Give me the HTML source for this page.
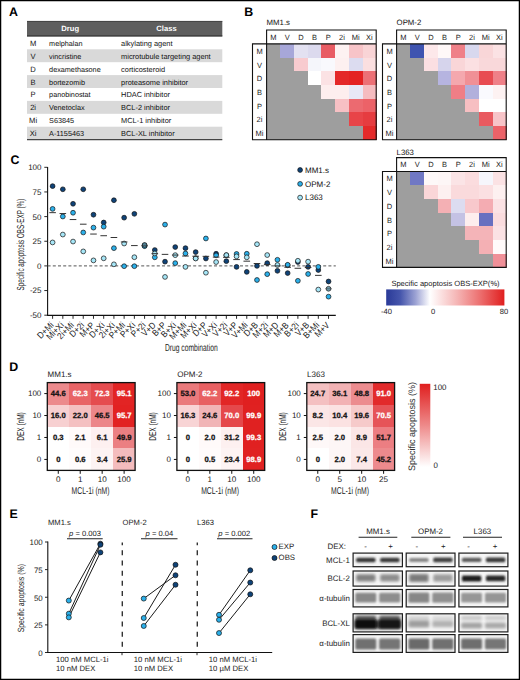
<!DOCTYPE html><html><head><meta charset="utf-8"><style>html,body{margin:0;padding:0;background:#fff;}svg{display:block;} text{font-family:"Liberation Sans", sans-serif;text-rendering:geometricPrecision;}</style></head><body>
<svg width="520" height="680" viewBox="0 0 520 680" font-family='"Liberation Sans", sans-serif'>
<rect x="0.00" y="0.00" width="520.00" height="680.00" fill="#fff" stroke="none" stroke-width="1" />
<text x="9.00" y="16.20" font-size="12.4" text-anchor="start" font-weight="bold" fill="#000" >A</text>
<rect x="27.00" y="21.00" width="195.30" height="15.40" fill="#5e5e5e" stroke="none" stroke-width="1" />
<line x1="27.00" y1="21.40" x2="222.30" y2="21.40" stroke="#3c3c3c" stroke-width="0.8" />
<line x1="27.00" y1="35.80" x2="222.30" y2="35.80" stroke="#3a3a3a" stroke-width="1.2" />
<text x="70.20" y="31.30" font-size="7.6" text-anchor="middle" font-weight="bold" fill="#fff" >Drug</text>
<text x="166.50" y="31.30" font-size="7.6" text-anchor="middle" font-weight="bold" fill="#fff" >Class</text>
<text x="33.10" y="45.80" font-size="7.6" text-anchor="middle" font-weight="normal" fill="#111" >M</text>
<text x="49.10" y="45.80" font-size="7.25" text-anchor="start" font-weight="normal" fill="#111" >melphalan</text>
<text x="121.10" y="45.80" font-size="7.4" text-anchor="start" font-weight="normal" fill="#111" >alkylating agent</text>
<rect x="27.00" y="49.30" width="195.30" height="12.90" fill="#d9d9d9" stroke="none" stroke-width="1" />
<text x="33.10" y="58.70" font-size="7.6" text-anchor="middle" font-weight="normal" fill="#111" >V</text>
<text x="49.10" y="58.70" font-size="7.25" text-anchor="start" font-weight="normal" fill="#111" >vincristine</text>
<text x="121.10" y="58.70" font-size="7.4" text-anchor="start" font-weight="normal" fill="#111" >microtubule targeting agent</text>
<text x="33.10" y="71.60" font-size="7.6" text-anchor="middle" font-weight="normal" fill="#111" >D</text>
<text x="49.10" y="71.60" font-size="7.25" text-anchor="start" font-weight="normal" fill="#111" >dexamethasone</text>
<text x="121.10" y="71.60" font-size="7.4" text-anchor="start" font-weight="normal" fill="#111" >corticosteroid</text>
<rect x="27.00" y="75.10" width="195.30" height="12.90" fill="#d9d9d9" stroke="none" stroke-width="1" />
<text x="33.10" y="84.50" font-size="7.6" text-anchor="middle" font-weight="normal" fill="#111" >B</text>
<text x="49.10" y="84.50" font-size="7.25" text-anchor="start" font-weight="normal" fill="#111" >bortezomib</text>
<text x="121.10" y="84.50" font-size="7.4" text-anchor="start" font-weight="normal" fill="#111" >proteasome inhibitor</text>
<text x="33.10" y="97.40" font-size="7.6" text-anchor="middle" font-weight="normal" fill="#111" >P</text>
<text x="49.10" y="97.40" font-size="7.25" text-anchor="start" font-weight="normal" fill="#111" >panobinostat</text>
<text x="121.10" y="97.40" font-size="7.4" text-anchor="start" font-weight="normal" fill="#111" >HDAC inhibitor</text>
<rect x="27.00" y="100.90" width="195.30" height="12.90" fill="#d9d9d9" stroke="none" stroke-width="1" />
<text x="33.10" y="110.30" font-size="7.6" text-anchor="middle" font-weight="normal" fill="#111" >2i</text>
<text x="49.10" y="110.30" font-size="7.25" text-anchor="start" font-weight="normal" fill="#111" >Venetoclax</text>
<text x="121.10" y="110.30" font-size="7.4" text-anchor="start" font-weight="normal" fill="#111" >BCL-2 inhibitor</text>
<text x="33.10" y="123.20" font-size="7.6" text-anchor="middle" font-weight="normal" fill="#111" >Mi</text>
<text x="49.10" y="123.20" font-size="7.25" text-anchor="start" font-weight="normal" fill="#111" >S63845</text>
<text x="121.10" y="123.20" font-size="7.4" text-anchor="start" font-weight="normal" fill="#111" >MCL-1 inhibitor</text>
<rect x="27.00" y="126.70" width="195.30" height="12.90" fill="#d9d9d9" stroke="none" stroke-width="1" />
<text x="33.10" y="136.10" font-size="7.6" text-anchor="middle" font-weight="normal" fill="#111" >Xi</text>
<text x="49.10" y="136.10" font-size="7.25" text-anchor="start" font-weight="normal" fill="#111" >A-1155463</text>
<text x="121.10" y="136.10" font-size="7.4" text-anchor="start" font-weight="normal" fill="#111" >BCL-XL inhibitor</text>
<line x1="27.00" y1="139.60" x2="222.30" y2="139.60" stroke="#444" stroke-width="1.1" />
<text x="244.30" y="15.80" font-size="12.4" text-anchor="start" font-weight="bold" fill="#000" >B</text>
<text x="266.60" y="24.70" font-size="7.8" text-anchor="start" font-weight="normal" fill="#111" >MM1.s</text>
<rect x="266.60" y="43.90" width="14.00" height="13.99" fill="#9e9e9e" stroke="none" stroke-width="1" shape-rendering="crispEdges"/>
<rect x="280.30" y="43.90" width="14.00" height="13.99" fill="#a7a7d9" stroke="none" stroke-width="1" shape-rendering="crispEdges"/>
<rect x="294.00" y="43.90" width="14.00" height="13.99" fill="#e3e1f1" stroke="none" stroke-width="1" shape-rendering="crispEdges"/>
<rect x="307.70" y="43.90" width="14.00" height="13.99" fill="#dcdaee" stroke="none" stroke-width="1" shape-rendering="crispEdges"/>
<rect x="321.40" y="43.90" width="14.00" height="13.99" fill="#e85c64" stroke="none" stroke-width="1" shape-rendering="crispEdges"/>
<rect x="335.10" y="43.90" width="14.00" height="13.99" fill="#fdf2f2" stroke="none" stroke-width="1" shape-rendering="crispEdges"/>
<rect x="348.80" y="43.90" width="14.00" height="13.99" fill="#f7c4c8" stroke="none" stroke-width="1" shape-rendering="crispEdges"/>
<rect x="362.50" y="43.90" width="14.00" height="13.99" fill="#f9d4d6" stroke="none" stroke-width="1" shape-rendering="crispEdges"/>
<rect x="266.60" y="57.59" width="14.00" height="13.99" fill="#9e9e9e" stroke="none" stroke-width="1" shape-rendering="crispEdges"/>
<rect x="280.30" y="57.59" width="14.00" height="13.99" fill="#9e9e9e" stroke="none" stroke-width="1" shape-rendering="crispEdges"/>
<rect x="294.00" y="57.59" width="14.00" height="13.99" fill="#f8cbcf" stroke="none" stroke-width="1" shape-rendering="crispEdges"/>
<rect x="307.70" y="57.59" width="14.00" height="13.99" fill="#f5f6fb" stroke="none" stroke-width="1" shape-rendering="crispEdges"/>
<rect x="321.40" y="57.59" width="14.00" height="13.99" fill="#f9f9fd" stroke="none" stroke-width="1" shape-rendering="crispEdges"/>
<rect x="335.10" y="57.59" width="14.00" height="13.99" fill="#fdf0f0" stroke="none" stroke-width="1" shape-rendering="crispEdges"/>
<rect x="348.80" y="57.59" width="14.00" height="13.99" fill="#dcdcf0" stroke="none" stroke-width="1" shape-rendering="crispEdges"/>
<rect x="362.50" y="57.59" width="14.00" height="13.99" fill="#fbdfe0" stroke="none" stroke-width="1" shape-rendering="crispEdges"/>
<rect x="266.60" y="71.28" width="14.00" height="13.99" fill="#9e9e9e" stroke="none" stroke-width="1" shape-rendering="crispEdges"/>
<rect x="280.30" y="71.28" width="14.00" height="13.99" fill="#9e9e9e" stroke="none" stroke-width="1" shape-rendering="crispEdges"/>
<rect x="294.00" y="71.28" width="14.00" height="13.99" fill="#9e9e9e" stroke="none" stroke-width="1" shape-rendering="crispEdges"/>
<rect x="307.70" y="71.28" width="14.00" height="13.99" fill="#ffffff" stroke="none" stroke-width="1" shape-rendering="crispEdges"/>
<rect x="321.40" y="71.28" width="14.00" height="13.99" fill="#fbe2e4" stroke="none" stroke-width="1" shape-rendering="crispEdges"/>
<rect x="335.10" y="71.28" width="14.00" height="13.99" fill="#e42828" stroke="none" stroke-width="1" shape-rendering="crispEdges"/>
<rect x="348.80" y="71.28" width="14.00" height="13.99" fill="#e42222" stroke="none" stroke-width="1" shape-rendering="crispEdges"/>
<rect x="362.50" y="71.28" width="14.00" height="13.99" fill="#ec7076" stroke="none" stroke-width="1" shape-rendering="crispEdges"/>
<rect x="266.60" y="84.97" width="14.00" height="13.99" fill="#9e9e9e" stroke="none" stroke-width="1" shape-rendering="crispEdges"/>
<rect x="280.30" y="84.97" width="14.00" height="13.99" fill="#9e9e9e" stroke="none" stroke-width="1" shape-rendering="crispEdges"/>
<rect x="294.00" y="84.97" width="14.00" height="13.99" fill="#9e9e9e" stroke="none" stroke-width="1" shape-rendering="crispEdges"/>
<rect x="307.70" y="84.97" width="14.00" height="13.99" fill="#9e9e9e" stroke="none" stroke-width="1" shape-rendering="crispEdges"/>
<rect x="321.40" y="84.97" width="14.00" height="13.99" fill="#fdeeee" stroke="none" stroke-width="1" shape-rendering="crispEdges"/>
<rect x="335.10" y="84.97" width="14.00" height="13.99" fill="#fdeeee" stroke="none" stroke-width="1" shape-rendering="crispEdges"/>
<rect x="348.80" y="84.97" width="14.00" height="13.99" fill="#e8e8f6" stroke="none" stroke-width="1" shape-rendering="crispEdges"/>
<rect x="362.50" y="84.97" width="14.00" height="13.99" fill="#f5bcc0" stroke="none" stroke-width="1" shape-rendering="crispEdges"/>
<rect x="266.60" y="98.66" width="14.00" height="13.99" fill="#9e9e9e" stroke="none" stroke-width="1" shape-rendering="crispEdges"/>
<rect x="280.30" y="98.66" width="14.00" height="13.99" fill="#9e9e9e" stroke="none" stroke-width="1" shape-rendering="crispEdges"/>
<rect x="294.00" y="98.66" width="14.00" height="13.99" fill="#9e9e9e" stroke="none" stroke-width="1" shape-rendering="crispEdges"/>
<rect x="307.70" y="98.66" width="14.00" height="13.99" fill="#9e9e9e" stroke="none" stroke-width="1" shape-rendering="crispEdges"/>
<rect x="321.40" y="98.66" width="14.00" height="13.99" fill="#9e9e9e" stroke="none" stroke-width="1" shape-rendering="crispEdges"/>
<rect x="335.10" y="98.66" width="14.00" height="13.99" fill="#f7c0c4" stroke="none" stroke-width="1" shape-rendering="crispEdges"/>
<rect x="348.80" y="98.66" width="14.00" height="13.99" fill="#ec6a70" stroke="none" stroke-width="1" shape-rendering="crispEdges"/>
<rect x="362.50" y="98.66" width="14.00" height="13.99" fill="#ec6268" stroke="none" stroke-width="1" shape-rendering="crispEdges"/>
<rect x="266.60" y="112.35" width="14.00" height="13.99" fill="#9e9e9e" stroke="none" stroke-width="1" shape-rendering="crispEdges"/>
<rect x="280.30" y="112.35" width="14.00" height="13.99" fill="#9e9e9e" stroke="none" stroke-width="1" shape-rendering="crispEdges"/>
<rect x="294.00" y="112.35" width="14.00" height="13.99" fill="#9e9e9e" stroke="none" stroke-width="1" shape-rendering="crispEdges"/>
<rect x="307.70" y="112.35" width="14.00" height="13.99" fill="#9e9e9e" stroke="none" stroke-width="1" shape-rendering="crispEdges"/>
<rect x="321.40" y="112.35" width="14.00" height="13.99" fill="#9e9e9e" stroke="none" stroke-width="1" shape-rendering="crispEdges"/>
<rect x="335.10" y="112.35" width="14.00" height="13.99" fill="#9e9e9e" stroke="none" stroke-width="1" shape-rendering="crispEdges"/>
<rect x="348.80" y="112.35" width="14.00" height="13.99" fill="#e84448" stroke="none" stroke-width="1" shape-rendering="crispEdges"/>
<rect x="362.50" y="112.35" width="14.00" height="13.99" fill="#e63c40" stroke="none" stroke-width="1" shape-rendering="crispEdges"/>
<rect x="266.60" y="126.04" width="14.00" height="13.99" fill="#9e9e9e" stroke="none" stroke-width="1" shape-rendering="crispEdges"/>
<rect x="280.30" y="126.04" width="14.00" height="13.99" fill="#9e9e9e" stroke="none" stroke-width="1" shape-rendering="crispEdges"/>
<rect x="294.00" y="126.04" width="14.00" height="13.99" fill="#9e9e9e" stroke="none" stroke-width="1" shape-rendering="crispEdges"/>
<rect x="307.70" y="126.04" width="14.00" height="13.99" fill="#9e9e9e" stroke="none" stroke-width="1" shape-rendering="crispEdges"/>
<rect x="321.40" y="126.04" width="14.00" height="13.99" fill="#9e9e9e" stroke="none" stroke-width="1" shape-rendering="crispEdges"/>
<rect x="335.10" y="126.04" width="14.00" height="13.99" fill="#9e9e9e" stroke="none" stroke-width="1" shape-rendering="crispEdges"/>
<rect x="348.80" y="126.04" width="14.00" height="13.99" fill="#9e9e9e" stroke="none" stroke-width="1" shape-rendering="crispEdges"/>
<rect x="362.50" y="126.04" width="14.00" height="13.99" fill="#e42a2a" stroke="none" stroke-width="1" shape-rendering="crispEdges"/>
<path d="M266.60 43.90 V30.00 H376.20 V139.73 H252.50 V43.90 H376.20 M266.60 43.90 V139.73" fill="none" stroke="#111" stroke-width="1.1"/>
<text x="273.45" y="39.70" font-size="7.5" text-anchor="middle" font-weight="normal" fill="#222" >M</text>
<text x="287.15" y="39.70" font-size="7.5" text-anchor="middle" font-weight="normal" fill="#222" >V</text>
<text x="300.85" y="39.70" font-size="7.5" text-anchor="middle" font-weight="normal" fill="#222" >D</text>
<text x="314.55" y="39.70" font-size="7.5" text-anchor="middle" font-weight="normal" fill="#222" >B</text>
<text x="328.25" y="39.70" font-size="7.5" text-anchor="middle" font-weight="normal" fill="#222" >P</text>
<text x="341.95" y="39.70" font-size="7.5" text-anchor="middle" font-weight="normal" fill="#222" >2i</text>
<text x="355.65" y="39.70" font-size="7.5" text-anchor="middle" font-weight="normal" fill="#222" >Mi</text>
<text x="369.35" y="39.70" font-size="7.5" text-anchor="middle" font-weight="normal" fill="#222" >Xi</text>
<text x="259.50" y="53.84" font-size="7.5" text-anchor="middle" font-weight="normal" fill="#222" >M</text>
<text x="259.50" y="67.53" font-size="7.5" text-anchor="middle" font-weight="normal" fill="#222" >V</text>
<text x="259.50" y="81.22" font-size="7.5" text-anchor="middle" font-weight="normal" fill="#222" >D</text>
<text x="259.50" y="94.91" font-size="7.5" text-anchor="middle" font-weight="normal" fill="#222" >B</text>
<text x="259.50" y="108.60" font-size="7.5" text-anchor="middle" font-weight="normal" fill="#222" >P</text>
<text x="259.50" y="122.29" font-size="7.5" text-anchor="middle" font-weight="normal" fill="#222" >2i</text>
<text x="259.50" y="135.98" font-size="7.5" text-anchor="middle" font-weight="normal" fill="#222" >Mi</text>
<text x="396.60" y="24.70" font-size="7.8" text-anchor="start" font-weight="normal" fill="#111" >OPM-2</text>
<rect x="396.60" y="43.90" width="14.00" height="13.99" fill="#9e9e9e" stroke="none" stroke-width="1" shape-rendering="crispEdges"/>
<rect x="410.30" y="43.90" width="14.00" height="13.99" fill="#3f54b0" stroke="none" stroke-width="1" shape-rendering="crispEdges"/>
<rect x="424.00" y="43.90" width="14.00" height="13.99" fill="#fde8ea" stroke="none" stroke-width="1" shape-rendering="crispEdges"/>
<rect x="437.70" y="43.90" width="14.00" height="13.99" fill="#fff8f8" stroke="none" stroke-width="1" shape-rendering="crispEdges"/>
<rect x="451.40" y="43.90" width="14.00" height="13.99" fill="#ef8088" stroke="none" stroke-width="1" shape-rendering="crispEdges"/>
<rect x="465.10" y="43.90" width="14.00" height="13.99" fill="#d8d8ee" stroke="none" stroke-width="1" shape-rendering="crispEdges"/>
<rect x="478.80" y="43.90" width="14.00" height="13.99" fill="#f9d6d8" stroke="none" stroke-width="1" shape-rendering="crispEdges"/>
<rect x="492.50" y="43.90" width="14.00" height="13.99" fill="#fbe2e4" stroke="none" stroke-width="1" shape-rendering="crispEdges"/>
<rect x="396.60" y="57.59" width="14.00" height="13.99" fill="#9e9e9e" stroke="none" stroke-width="1" shape-rendering="crispEdges"/>
<rect x="410.30" y="57.59" width="14.00" height="13.99" fill="#9e9e9e" stroke="none" stroke-width="1" shape-rendering="crispEdges"/>
<rect x="424.00" y="57.59" width="14.00" height="13.99" fill="#fbdfe2" stroke="none" stroke-width="1" shape-rendering="crispEdges"/>
<rect x="437.70" y="57.59" width="14.00" height="13.99" fill="#d6d4ec" stroke="none" stroke-width="1" shape-rendering="crispEdges"/>
<rect x="451.40" y="57.59" width="14.00" height="13.99" fill="#f9d6d8" stroke="none" stroke-width="1" shape-rendering="crispEdges"/>
<rect x="465.10" y="57.59" width="14.00" height="13.99" fill="#fbe0e2" stroke="none" stroke-width="1" shape-rendering="crispEdges"/>
<rect x="478.80" y="57.59" width="14.00" height="13.99" fill="#f9d8da" stroke="none" stroke-width="1" shape-rendering="crispEdges"/>
<rect x="492.50" y="57.59" width="14.00" height="13.99" fill="#f9d8da" stroke="none" stroke-width="1" shape-rendering="crispEdges"/>
<rect x="396.60" y="71.28" width="14.00" height="13.99" fill="#9e9e9e" stroke="none" stroke-width="1" shape-rendering="crispEdges"/>
<rect x="410.30" y="71.28" width="14.00" height="13.99" fill="#9e9e9e" stroke="none" stroke-width="1" shape-rendering="crispEdges"/>
<rect x="424.00" y="71.28" width="14.00" height="13.99" fill="#9e9e9e" stroke="none" stroke-width="1" shape-rendering="crispEdges"/>
<rect x="437.70" y="71.28" width="14.00" height="13.99" fill="#b6b4e0" stroke="none" stroke-width="1" shape-rendering="crispEdges"/>
<rect x="451.40" y="71.28" width="14.00" height="13.99" fill="#f4a8ae" stroke="none" stroke-width="1" shape-rendering="crispEdges"/>
<rect x="465.10" y="71.28" width="14.00" height="13.99" fill="#f09096" stroke="none" stroke-width="1" shape-rendering="crispEdges"/>
<rect x="478.80" y="71.28" width="14.00" height="13.99" fill="#e84c52" stroke="none" stroke-width="1" shape-rendering="crispEdges"/>
<rect x="492.50" y="71.28" width="14.00" height="13.99" fill="#ef8088" stroke="none" stroke-width="1" shape-rendering="crispEdges"/>
<rect x="396.60" y="84.97" width="14.00" height="13.99" fill="#9e9e9e" stroke="none" stroke-width="1" shape-rendering="crispEdges"/>
<rect x="410.30" y="84.97" width="14.00" height="13.99" fill="#9e9e9e" stroke="none" stroke-width="1" shape-rendering="crispEdges"/>
<rect x="424.00" y="84.97" width="14.00" height="13.99" fill="#9e9e9e" stroke="none" stroke-width="1" shape-rendering="crispEdges"/>
<rect x="437.70" y="84.97" width="14.00" height="13.99" fill="#9e9e9e" stroke="none" stroke-width="1" shape-rendering="crispEdges"/>
<rect x="451.40" y="84.97" width="14.00" height="13.99" fill="#ef7e86" stroke="none" stroke-width="1" shape-rendering="crispEdges"/>
<rect x="465.10" y="84.97" width="14.00" height="13.99" fill="#b2b0dc" stroke="none" stroke-width="1" shape-rendering="crispEdges"/>
<rect x="478.80" y="84.97" width="14.00" height="13.99" fill="#fafafe" stroke="none" stroke-width="1" shape-rendering="crispEdges"/>
<rect x="492.50" y="84.97" width="14.00" height="13.99" fill="#fdf2f2" stroke="none" stroke-width="1" shape-rendering="crispEdges"/>
<rect x="396.60" y="98.66" width="14.00" height="13.99" fill="#9e9e9e" stroke="none" stroke-width="1" shape-rendering="crispEdges"/>
<rect x="410.30" y="98.66" width="14.00" height="13.99" fill="#9e9e9e" stroke="none" stroke-width="1" shape-rendering="crispEdges"/>
<rect x="424.00" y="98.66" width="14.00" height="13.99" fill="#9e9e9e" stroke="none" stroke-width="1" shape-rendering="crispEdges"/>
<rect x="437.70" y="98.66" width="14.00" height="13.99" fill="#9e9e9e" stroke="none" stroke-width="1" shape-rendering="crispEdges"/>
<rect x="451.40" y="98.66" width="14.00" height="13.99" fill="#9e9e9e" stroke="none" stroke-width="1" shape-rendering="crispEdges"/>
<rect x="465.10" y="98.66" width="14.00" height="13.99" fill="#f7bfc2" stroke="none" stroke-width="1" shape-rendering="crispEdges"/>
<rect x="478.80" y="98.66" width="14.00" height="13.99" fill="#ffffff" stroke="none" stroke-width="1" shape-rendering="crispEdges"/>
<rect x="492.50" y="98.66" width="14.00" height="13.99" fill="#ffffff" stroke="none" stroke-width="1" shape-rendering="crispEdges"/>
<rect x="396.60" y="112.35" width="14.00" height="13.99" fill="#9e9e9e" stroke="none" stroke-width="1" shape-rendering="crispEdges"/>
<rect x="410.30" y="112.35" width="14.00" height="13.99" fill="#9e9e9e" stroke="none" stroke-width="1" shape-rendering="crispEdges"/>
<rect x="424.00" y="112.35" width="14.00" height="13.99" fill="#9e9e9e" stroke="none" stroke-width="1" shape-rendering="crispEdges"/>
<rect x="437.70" y="112.35" width="14.00" height="13.99" fill="#9e9e9e" stroke="none" stroke-width="1" shape-rendering="crispEdges"/>
<rect x="451.40" y="112.35" width="14.00" height="13.99" fill="#9e9e9e" stroke="none" stroke-width="1" shape-rendering="crispEdges"/>
<rect x="465.10" y="112.35" width="14.00" height="13.99" fill="#9e9e9e" stroke="none" stroke-width="1" shape-rendering="crispEdges"/>
<rect x="478.80" y="112.35" width="14.00" height="13.99" fill="#e95a60" stroke="none" stroke-width="1" shape-rendering="crispEdges"/>
<rect x="492.50" y="112.35" width="14.00" height="13.99" fill="#f7c4c8" stroke="none" stroke-width="1" shape-rendering="crispEdges"/>
<rect x="396.60" y="126.04" width="14.00" height="13.99" fill="#9e9e9e" stroke="none" stroke-width="1" shape-rendering="crispEdges"/>
<rect x="410.30" y="126.04" width="14.00" height="13.99" fill="#9e9e9e" stroke="none" stroke-width="1" shape-rendering="crispEdges"/>
<rect x="424.00" y="126.04" width="14.00" height="13.99" fill="#9e9e9e" stroke="none" stroke-width="1" shape-rendering="crispEdges"/>
<rect x="437.70" y="126.04" width="14.00" height="13.99" fill="#9e9e9e" stroke="none" stroke-width="1" shape-rendering="crispEdges"/>
<rect x="451.40" y="126.04" width="14.00" height="13.99" fill="#9e9e9e" stroke="none" stroke-width="1" shape-rendering="crispEdges"/>
<rect x="465.10" y="126.04" width="14.00" height="13.99" fill="#9e9e9e" stroke="none" stroke-width="1" shape-rendering="crispEdges"/>
<rect x="478.80" y="126.04" width="14.00" height="13.99" fill="#9e9e9e" stroke="none" stroke-width="1" shape-rendering="crispEdges"/>
<rect x="492.50" y="126.04" width="14.00" height="13.99" fill="#ec6268" stroke="none" stroke-width="1" shape-rendering="crispEdges"/>
<path d="M396.60 43.90 V30.00 H506.20 V139.73 H382.50 V43.90 H506.20 M396.60 43.90 V139.73" fill="none" stroke="#111" stroke-width="1.1"/>
<text x="403.45" y="39.70" font-size="7.5" text-anchor="middle" font-weight="normal" fill="#222" >M</text>
<text x="417.15" y="39.70" font-size="7.5" text-anchor="middle" font-weight="normal" fill="#222" >V</text>
<text x="430.85" y="39.70" font-size="7.5" text-anchor="middle" font-weight="normal" fill="#222" >D</text>
<text x="444.55" y="39.70" font-size="7.5" text-anchor="middle" font-weight="normal" fill="#222" >B</text>
<text x="458.25" y="39.70" font-size="7.5" text-anchor="middle" font-weight="normal" fill="#222" >P</text>
<text x="471.95" y="39.70" font-size="7.5" text-anchor="middle" font-weight="normal" fill="#222" >2i</text>
<text x="485.65" y="39.70" font-size="7.5" text-anchor="middle" font-weight="normal" fill="#222" >Mi</text>
<text x="499.35" y="39.70" font-size="7.5" text-anchor="middle" font-weight="normal" fill="#222" >Xi</text>
<text x="389.50" y="53.84" font-size="7.5" text-anchor="middle" font-weight="normal" fill="#222" >M</text>
<text x="389.50" y="67.53" font-size="7.5" text-anchor="middle" font-weight="normal" fill="#222" >V</text>
<text x="389.50" y="81.22" font-size="7.5" text-anchor="middle" font-weight="normal" fill="#222" >D</text>
<text x="389.50" y="94.91" font-size="7.5" text-anchor="middle" font-weight="normal" fill="#222" >B</text>
<text x="389.50" y="108.60" font-size="7.5" text-anchor="middle" font-weight="normal" fill="#222" >P</text>
<text x="389.50" y="122.29" font-size="7.5" text-anchor="middle" font-weight="normal" fill="#222" >2i</text>
<text x="389.50" y="135.98" font-size="7.5" text-anchor="middle" font-weight="normal" fill="#222" >Mi</text>
<text x="396.60" y="154.70" font-size="7.8" text-anchor="start" font-weight="normal" fill="#111" >L363</text>
<rect x="396.60" y="171.50" width="14.00" height="13.99" fill="#9e9e9e" stroke="none" stroke-width="1" shape-rendering="crispEdges"/>
<rect x="410.30" y="171.50" width="14.00" height="13.99" fill="#7078c4" stroke="none" stroke-width="1" shape-rendering="crispEdges"/>
<rect x="424.00" y="171.50" width="14.00" height="13.99" fill="#fdf8f8" stroke="none" stroke-width="1" shape-rendering="crispEdges"/>
<rect x="437.70" y="171.50" width="14.00" height="13.99" fill="#fdf6f6" stroke="none" stroke-width="1" shape-rendering="crispEdges"/>
<rect x="451.40" y="171.50" width="14.00" height="13.99" fill="#fbe4e6" stroke="none" stroke-width="1" shape-rendering="crispEdges"/>
<rect x="465.10" y="171.50" width="14.00" height="13.99" fill="#fbdcde" stroke="none" stroke-width="1" shape-rendering="crispEdges"/>
<rect x="478.80" y="171.50" width="14.00" height="13.99" fill="#f6f6fc" stroke="none" stroke-width="1" shape-rendering="crispEdges"/>
<rect x="492.50" y="171.50" width="14.00" height="13.99" fill="#fbe2e4" stroke="none" stroke-width="1" shape-rendering="crispEdges"/>
<rect x="396.60" y="185.19" width="14.00" height="13.99" fill="#9e9e9e" stroke="none" stroke-width="1" shape-rendering="crispEdges"/>
<rect x="410.30" y="185.19" width="14.00" height="13.99" fill="#9e9e9e" stroke="none" stroke-width="1" shape-rendering="crispEdges"/>
<rect x="424.00" y="185.19" width="14.00" height="13.99" fill="#fad6d8" stroke="none" stroke-width="1" shape-rendering="crispEdges"/>
<rect x="437.70" y="185.19" width="14.00" height="13.99" fill="#fdf0f0" stroke="none" stroke-width="1" shape-rendering="crispEdges"/>
<rect x="451.40" y="185.19" width="14.00" height="13.99" fill="#fadadc" stroke="none" stroke-width="1" shape-rendering="crispEdges"/>
<rect x="465.10" y="185.19" width="14.00" height="13.99" fill="#fadadc" stroke="none" stroke-width="1" shape-rendering="crispEdges"/>
<rect x="478.80" y="185.19" width="14.00" height="13.99" fill="#fbe0e2" stroke="none" stroke-width="1" shape-rendering="crispEdges"/>
<rect x="492.50" y="185.19" width="14.00" height="13.99" fill="#fdf0f0" stroke="none" stroke-width="1" shape-rendering="crispEdges"/>
<rect x="396.60" y="198.88" width="14.00" height="13.99" fill="#9e9e9e" stroke="none" stroke-width="1" shape-rendering="crispEdges"/>
<rect x="410.30" y="198.88" width="14.00" height="13.99" fill="#9e9e9e" stroke="none" stroke-width="1" shape-rendering="crispEdges"/>
<rect x="424.00" y="198.88" width="14.00" height="13.99" fill="#9e9e9e" stroke="none" stroke-width="1" shape-rendering="crispEdges"/>
<rect x="437.70" y="198.88" width="14.00" height="13.99" fill="#f4b0b4" stroke="none" stroke-width="1" shape-rendering="crispEdges"/>
<rect x="451.40" y="198.88" width="14.00" height="13.99" fill="#dcdcf0" stroke="none" stroke-width="1" shape-rendering="crispEdges"/>
<rect x="465.10" y="198.88" width="14.00" height="13.99" fill="#f8c8cc" stroke="none" stroke-width="1" shape-rendering="crispEdges"/>
<rect x="478.80" y="198.88" width="14.00" height="13.99" fill="#f4acb2" stroke="none" stroke-width="1" shape-rendering="crispEdges"/>
<rect x="492.50" y="198.88" width="14.00" height="13.99" fill="#fbe2e4" stroke="none" stroke-width="1" shape-rendering="crispEdges"/>
<rect x="396.60" y="212.57" width="14.00" height="13.99" fill="#9e9e9e" stroke="none" stroke-width="1" shape-rendering="crispEdges"/>
<rect x="410.30" y="212.57" width="14.00" height="13.99" fill="#9e9e9e" stroke="none" stroke-width="1" shape-rendering="crispEdges"/>
<rect x="424.00" y="212.57" width="14.00" height="13.99" fill="#9e9e9e" stroke="none" stroke-width="1" shape-rendering="crispEdges"/>
<rect x="437.70" y="212.57" width="14.00" height="13.99" fill="#9e9e9e" stroke="none" stroke-width="1" shape-rendering="crispEdges"/>
<rect x="451.40" y="212.57" width="14.00" height="13.99" fill="#c4c2e4" stroke="none" stroke-width="1" shape-rendering="crispEdges"/>
<rect x="465.10" y="212.57" width="14.00" height="13.99" fill="#fdeeee" stroke="none" stroke-width="1" shape-rendering="crispEdges"/>
<rect x="478.80" y="212.57" width="14.00" height="13.99" fill="#6870c0" stroke="none" stroke-width="1" shape-rendering="crispEdges"/>
<rect x="492.50" y="212.57" width="14.00" height="13.99" fill="#fadcde" stroke="none" stroke-width="1" shape-rendering="crispEdges"/>
<rect x="396.60" y="226.26" width="14.00" height="13.99" fill="#9e9e9e" stroke="none" stroke-width="1" shape-rendering="crispEdges"/>
<rect x="410.30" y="226.26" width="14.00" height="13.99" fill="#9e9e9e" stroke="none" stroke-width="1" shape-rendering="crispEdges"/>
<rect x="424.00" y="226.26" width="14.00" height="13.99" fill="#9e9e9e" stroke="none" stroke-width="1" shape-rendering="crispEdges"/>
<rect x="437.70" y="226.26" width="14.00" height="13.99" fill="#9e9e9e" stroke="none" stroke-width="1" shape-rendering="crispEdges"/>
<rect x="451.40" y="226.26" width="14.00" height="13.99" fill="#9e9e9e" stroke="none" stroke-width="1" shape-rendering="crispEdges"/>
<rect x="465.10" y="226.26" width="14.00" height="13.99" fill="#f4b4b8" stroke="none" stroke-width="1" shape-rendering="crispEdges"/>
<rect x="478.80" y="226.26" width="14.00" height="13.99" fill="#f4b4b8" stroke="none" stroke-width="1" shape-rendering="crispEdges"/>
<rect x="492.50" y="226.26" width="14.00" height="13.99" fill="#fbe2e4" stroke="none" stroke-width="1" shape-rendering="crispEdges"/>
<rect x="396.60" y="239.95" width="14.00" height="13.99" fill="#9e9e9e" stroke="none" stroke-width="1" shape-rendering="crispEdges"/>
<rect x="410.30" y="239.95" width="14.00" height="13.99" fill="#9e9e9e" stroke="none" stroke-width="1" shape-rendering="crispEdges"/>
<rect x="424.00" y="239.95" width="14.00" height="13.99" fill="#9e9e9e" stroke="none" stroke-width="1" shape-rendering="crispEdges"/>
<rect x="437.70" y="239.95" width="14.00" height="13.99" fill="#9e9e9e" stroke="none" stroke-width="1" shape-rendering="crispEdges"/>
<rect x="451.40" y="239.95" width="14.00" height="13.99" fill="#9e9e9e" stroke="none" stroke-width="1" shape-rendering="crispEdges"/>
<rect x="465.10" y="239.95" width="14.00" height="13.99" fill="#9e9e9e" stroke="none" stroke-width="1" shape-rendering="crispEdges"/>
<rect x="478.80" y="239.95" width="14.00" height="13.99" fill="#f4b0b4" stroke="none" stroke-width="1" shape-rendering="crispEdges"/>
<rect x="492.50" y="239.95" width="14.00" height="13.99" fill="#fffafa" stroke="none" stroke-width="1" shape-rendering="crispEdges"/>
<rect x="396.60" y="253.64" width="14.00" height="13.99" fill="#9e9e9e" stroke="none" stroke-width="1" shape-rendering="crispEdges"/>
<rect x="410.30" y="253.64" width="14.00" height="13.99" fill="#9e9e9e" stroke="none" stroke-width="1" shape-rendering="crispEdges"/>
<rect x="424.00" y="253.64" width="14.00" height="13.99" fill="#9e9e9e" stroke="none" stroke-width="1" shape-rendering="crispEdges"/>
<rect x="437.70" y="253.64" width="14.00" height="13.99" fill="#9e9e9e" stroke="none" stroke-width="1" shape-rendering="crispEdges"/>
<rect x="451.40" y="253.64" width="14.00" height="13.99" fill="#9e9e9e" stroke="none" stroke-width="1" shape-rendering="crispEdges"/>
<rect x="465.10" y="253.64" width="14.00" height="13.99" fill="#9e9e9e" stroke="none" stroke-width="1" shape-rendering="crispEdges"/>
<rect x="478.80" y="253.64" width="14.00" height="13.99" fill="#9e9e9e" stroke="none" stroke-width="1" shape-rendering="crispEdges"/>
<rect x="492.50" y="253.64" width="14.00" height="13.99" fill="#f09098" stroke="none" stroke-width="1" shape-rendering="crispEdges"/>
<path d="M396.60 171.50 V157.60 H506.20 V267.33 H382.50 V171.50 H506.20 M396.60 171.50 V267.33" fill="none" stroke="#111" stroke-width="1.1"/>
<text x="403.45" y="167.30" font-size="7.5" text-anchor="middle" font-weight="normal" fill="#222" >M</text>
<text x="417.15" y="167.30" font-size="7.5" text-anchor="middle" font-weight="normal" fill="#222" >V</text>
<text x="430.85" y="167.30" font-size="7.5" text-anchor="middle" font-weight="normal" fill="#222" >D</text>
<text x="444.55" y="167.30" font-size="7.5" text-anchor="middle" font-weight="normal" fill="#222" >B</text>
<text x="458.25" y="167.30" font-size="7.5" text-anchor="middle" font-weight="normal" fill="#222" >P</text>
<text x="471.95" y="167.30" font-size="7.5" text-anchor="middle" font-weight="normal" fill="#222" >2i</text>
<text x="485.65" y="167.30" font-size="7.5" text-anchor="middle" font-weight="normal" fill="#222" >Mi</text>
<text x="499.35" y="167.30" font-size="7.5" text-anchor="middle" font-weight="normal" fill="#222" >Xi</text>
<text x="389.50" y="181.44" font-size="7.5" text-anchor="middle" font-weight="normal" fill="#222" >M</text>
<text x="389.50" y="195.13" font-size="7.5" text-anchor="middle" font-weight="normal" fill="#222" >V</text>
<text x="389.50" y="208.82" font-size="7.5" text-anchor="middle" font-weight="normal" fill="#222" >D</text>
<text x="389.50" y="222.51" font-size="7.5" text-anchor="middle" font-weight="normal" fill="#222" >B</text>
<text x="389.50" y="236.20" font-size="7.5" text-anchor="middle" font-weight="normal" fill="#222" >P</text>
<text x="389.50" y="249.90" font-size="7.5" text-anchor="middle" font-weight="normal" fill="#222" >2i</text>
<text x="389.50" y="263.59" font-size="7.5" text-anchor="middle" font-weight="normal" fill="#222" >Mi</text>
<defs><linearGradient id="cbB" x1="0" x2="1" y1="0" y2="0"><stop offset="0" stop-color="#2a3a98"/><stop offset="0.12" stop-color="#4656ac"/><stop offset="0.25" stop-color="#9da3d4"/><stop offset="0.37" stop-color="#ffffff"/><stop offset="0.6" stop-color="#f5b5b5"/><stop offset="0.8" stop-color="#ec6d6d"/><stop offset="1" stop-color="#e01f1f"/></linearGradient></defs>
<rect x="386.20" y="289.40" width="118.20" height="16.10" fill="url(#cbB)" stroke="none" stroke-width="1" />
<text x="445.50" y="285.60" font-size="7.55" text-anchor="middle" font-weight="normal" fill="#222" >Specific apoptosis OBS-EXP(%)</text>
<text x="386.50" y="313.70" font-size="7.6" text-anchor="middle" font-weight="normal" fill="#222" >-40</text>
<text x="433.00" y="313.70" font-size="7.6" text-anchor="middle" font-weight="normal" fill="#222" >0</text>
<text x="503.90" y="313.70" font-size="7.6" text-anchor="middle" font-weight="normal" fill="#222" >80</text>
<text x="10.60" y="163.90" font-size="12.4" text-anchor="start" font-weight="bold" fill="#000" >C</text>
<line x1="47.60" y1="167.00" x2="47.60" y2="315.40" stroke="#111" stroke-width="1.1" />
<line x1="47.10" y1="315.40" x2="335.80" y2="315.40" stroke="#111" stroke-width="1.1" />
<line x1="44.30" y1="167.30" x2="47.60" y2="167.30" stroke="#111" stroke-width="0.9" />
<text x="41.50" y="170.20" font-size="8.0" text-anchor="end" font-weight="normal" fill="#222" >100</text>
<line x1="44.30" y1="191.95" x2="47.60" y2="191.95" stroke="#111" stroke-width="0.9" />
<text x="41.50" y="194.85" font-size="8.0" text-anchor="end" font-weight="normal" fill="#222" >75</text>
<line x1="44.30" y1="216.60" x2="47.60" y2="216.60" stroke="#111" stroke-width="0.9" />
<text x="41.50" y="219.50" font-size="8.0" text-anchor="end" font-weight="normal" fill="#222" >50</text>
<line x1="44.30" y1="241.25" x2="47.60" y2="241.25" stroke="#111" stroke-width="0.9" />
<text x="41.50" y="244.15" font-size="8.0" text-anchor="end" font-weight="normal" fill="#222" >25</text>
<line x1="44.30" y1="265.90" x2="47.60" y2="265.90" stroke="#111" stroke-width="0.9" />
<text x="41.50" y="268.80" font-size="8.0" text-anchor="end" font-weight="normal" fill="#222" >0</text>
<line x1="44.30" y1="290.55" x2="47.60" y2="290.55" stroke="#111" stroke-width="0.9" />
<text x="41.50" y="293.45" font-size="8.0" text-anchor="end" font-weight="normal" fill="#222" >-25</text>
<line x1="44.30" y1="315.20" x2="47.60" y2="315.20" stroke="#111" stroke-width="0.9" />
<text x="41.50" y="318.10" font-size="8.0" text-anchor="end" font-weight="normal" fill="#222" >-50</text>
<line x1="47.60" y1="265.90" x2="335.80" y2="265.90" stroke="#555" stroke-width="1.0" stroke-dasharray="3 2.2"/>
<line x1="52.60" y1="315.40" x2="52.60" y2="318.80" stroke="#111" stroke-width="0.9" />
<line x1="62.82" y1="315.40" x2="62.82" y2="318.80" stroke="#111" stroke-width="0.9" />
<line x1="73.04" y1="315.40" x2="73.04" y2="318.80" stroke="#111" stroke-width="0.9" />
<line x1="83.26" y1="315.40" x2="83.26" y2="318.80" stroke="#111" stroke-width="0.9" />
<line x1="93.48" y1="315.40" x2="93.48" y2="318.80" stroke="#111" stroke-width="0.9" />
<line x1="103.70" y1="315.40" x2="103.70" y2="318.80" stroke="#111" stroke-width="0.9" />
<line x1="113.92" y1="315.40" x2="113.92" y2="318.80" stroke="#111" stroke-width="0.9" />
<line x1="124.14" y1="315.40" x2="124.14" y2="318.80" stroke="#111" stroke-width="0.9" />
<line x1="134.36" y1="315.40" x2="134.36" y2="318.80" stroke="#111" stroke-width="0.9" />
<line x1="144.58" y1="315.40" x2="144.58" y2="318.80" stroke="#111" stroke-width="0.9" />
<line x1="154.80" y1="315.40" x2="154.80" y2="318.80" stroke="#111" stroke-width="0.9" />
<line x1="165.02" y1="315.40" x2="165.02" y2="318.80" stroke="#111" stroke-width="0.9" />
<line x1="175.24" y1="315.40" x2="175.24" y2="318.80" stroke="#111" stroke-width="0.9" />
<line x1="185.46" y1="315.40" x2="185.46" y2="318.80" stroke="#111" stroke-width="0.9" />
<line x1="195.68" y1="315.40" x2="195.68" y2="318.80" stroke="#111" stroke-width="0.9" />
<line x1="205.90" y1="315.40" x2="205.90" y2="318.80" stroke="#111" stroke-width="0.9" />
<line x1="216.12" y1="315.40" x2="216.12" y2="318.80" stroke="#111" stroke-width="0.9" />
<line x1="226.34" y1="315.40" x2="226.34" y2="318.80" stroke="#111" stroke-width="0.9" />
<line x1="236.56" y1="315.40" x2="236.56" y2="318.80" stroke="#111" stroke-width="0.9" />
<line x1="246.78" y1="315.40" x2="246.78" y2="318.80" stroke="#111" stroke-width="0.9" />
<line x1="257.00" y1="315.40" x2="257.00" y2="318.80" stroke="#111" stroke-width="0.9" />
<line x1="267.22" y1="315.40" x2="267.22" y2="318.80" stroke="#111" stroke-width="0.9" />
<line x1="277.44" y1="315.40" x2="277.44" y2="318.80" stroke="#111" stroke-width="0.9" />
<line x1="287.66" y1="315.40" x2="287.66" y2="318.80" stroke="#111" stroke-width="0.9" />
<line x1="297.88" y1="315.40" x2="297.88" y2="318.80" stroke="#111" stroke-width="0.9" />
<line x1="308.10" y1="315.40" x2="308.10" y2="318.80" stroke="#111" stroke-width="0.9" />
<line x1="318.32" y1="315.40" x2="318.32" y2="318.80" stroke="#111" stroke-width="0.9" />
<line x1="328.54" y1="315.40" x2="328.54" y2="318.80" stroke="#111" stroke-width="0.9" />
<text transform="translate(54.20,325.80) rotate(-45) scale(0.9,1)" text-anchor="end" font-size="9.0" fill="#222">D+Mi</text>
<text transform="translate(64.42,325.80) rotate(-45) scale(0.9,1)" text-anchor="end" font-size="9.0" fill="#222">Mi+Xi</text>
<text transform="translate(74.64,325.80) rotate(-45) scale(0.9,1)" text-anchor="end" font-size="9.0" fill="#222">2i+Mi</text>
<text transform="translate(84.86,325.80) rotate(-45) scale(0.9,1)" text-anchor="end" font-size="9.0" fill="#222">D+2i</text>
<text transform="translate(95.08,325.80) rotate(-45) scale(0.9,1)" text-anchor="end" font-size="9.0" fill="#222">M+P</text>
<text transform="translate(105.30,325.80) rotate(-45) scale(0.9,1)" text-anchor="end" font-size="9.0" fill="#222">D+Xi</text>
<text transform="translate(115.52,325.80) rotate(-45) scale(0.9,1)" text-anchor="end" font-size="9.0" fill="#222">2i+Xi</text>
<text transform="translate(125.74,325.80) rotate(-45) scale(0.9,1)" text-anchor="end" font-size="9.0" fill="#222">P+Mi</text>
<text transform="translate(135.96,325.80) rotate(-45) scale(0.9,1)" text-anchor="end" font-size="9.0" fill="#222">P+Xi</text>
<text transform="translate(146.18,325.80) rotate(-45) scale(0.9,1)" text-anchor="end" font-size="9.0" fill="#222">P+2i</text>
<text transform="translate(156.40,325.80) rotate(-45) scale(0.9,1)" text-anchor="end" font-size="9.0" fill="#222">V+D</text>
<text transform="translate(166.62,325.80) rotate(-45) scale(0.9,1)" text-anchor="end" font-size="9.0" fill="#222">B+P</text>
<text transform="translate(176.84,325.80) rotate(-45) scale(0.9,1)" text-anchor="end" font-size="9.0" fill="#222">B+Xi</text>
<text transform="translate(187.06,325.80) rotate(-45) scale(0.9,1)" text-anchor="end" font-size="9.0" fill="#222">M+Mi</text>
<text transform="translate(197.28,325.80) rotate(-45) scale(0.9,1)" text-anchor="end" font-size="9.0" fill="#222">M+Xi</text>
<text transform="translate(207.50,325.80) rotate(-45) scale(0.9,1)" text-anchor="end" font-size="9.0" fill="#222">D+P</text>
<text transform="translate(217.72,325.80) rotate(-45) scale(0.9,1)" text-anchor="end" font-size="9.0" fill="#222">V+Xi</text>
<text transform="translate(227.94,325.80) rotate(-45) scale(0.9,1)" text-anchor="end" font-size="9.0" fill="#222">V+2i</text>
<text transform="translate(238.16,325.80) rotate(-45) scale(0.9,1)" text-anchor="end" font-size="9.0" fill="#222">V+P</text>
<text transform="translate(248.38,325.80) rotate(-45) scale(0.9,1)" text-anchor="end" font-size="9.0" fill="#222">V+Mi</text>
<text transform="translate(258.60,325.80) rotate(-45) scale(0.9,1)" text-anchor="end" font-size="9.0" fill="#222">D+B</text>
<text transform="translate(268.82,325.80) rotate(-45) scale(0.9,1)" text-anchor="end" font-size="9.0" fill="#222">M+2i</text>
<text transform="translate(279.04,325.80) rotate(-45) scale(0.9,1)" text-anchor="end" font-size="9.0" fill="#222">M+D</text>
<text transform="translate(289.26,325.80) rotate(-45) scale(0.9,1)" text-anchor="end" font-size="9.0" fill="#222">M+B</text>
<text transform="translate(299.48,325.80) rotate(-45) scale(0.9,1)" text-anchor="end" font-size="9.0" fill="#222">B+2i</text>
<text transform="translate(309.70,325.80) rotate(-45) scale(0.9,1)" text-anchor="end" font-size="9.0" fill="#222">V+B</text>
<text transform="translate(319.92,325.80) rotate(-45) scale(0.9,1)" text-anchor="end" font-size="9.0" fill="#222">B+Mi</text>
<text transform="translate(330.14,325.80) rotate(-45) scale(0.9,1)" text-anchor="end" font-size="9.0" fill="#222">M+V</text>
<circle cx="52.60" cy="186.13" r="2.4" fill="#0f4378" stroke="#111" stroke-width="0.7"/>
<circle cx="52.60" cy="208.91" r="2.4" fill="#2bb0ea" stroke="#111" stroke-width="0.7"/>
<circle cx="52.60" cy="242.43" r="2.4" fill="#a6e6f7" stroke="#111" stroke-width="0.7"/>
<circle cx="62.82" cy="189.29" r="2.4" fill="#0f4378" stroke="#111" stroke-width="0.7"/>
<circle cx="62.82" cy="216.50" r="2.4" fill="#2bb0ea" stroke="#111" stroke-width="0.7"/>
<circle cx="62.82" cy="234.55" r="2.4" fill="#a6e6f7" stroke="#111" stroke-width="0.7"/>
<circle cx="73.04" cy="203.78" r="2.4" fill="#0f4378" stroke="#111" stroke-width="0.7"/>
<circle cx="73.04" cy="212.75" r="2.4" fill="#2bb0ea" stroke="#111" stroke-width="0.7"/>
<circle cx="73.04" cy="241.55" r="2.4" fill="#a6e6f7" stroke="#111" stroke-width="0.7"/>
<circle cx="83.26" cy="189.29" r="2.4" fill="#0f4378" stroke="#111" stroke-width="0.7"/>
<circle cx="83.26" cy="232.47" r="2.4" fill="#2bb0ea" stroke="#111" stroke-width="0.7"/>
<circle cx="83.26" cy="251.41" r="2.4" fill="#a6e6f7" stroke="#111" stroke-width="0.7"/>
<circle cx="93.48" cy="214.73" r="2.4" fill="#0f4378" stroke="#111" stroke-width="0.7"/>
<circle cx="93.48" cy="227.64" r="2.4" fill="#2bb0ea" stroke="#111" stroke-width="0.7"/>
<circle cx="93.48" cy="260.38" r="2.4" fill="#a6e6f7" stroke="#111" stroke-width="0.7"/>
<circle cx="103.70" cy="222.52" r="2.4" fill="#0f4378" stroke="#111" stroke-width="0.7"/>
<circle cx="103.70" cy="226.66" r="2.4" fill="#2bb0ea" stroke="#111" stroke-width="0.7"/>
<circle cx="103.70" cy="258.31" r="2.4" fill="#a6e6f7" stroke="#111" stroke-width="0.7"/>
<circle cx="113.92" cy="200.23" r="2.4" fill="#0f4378" stroke="#111" stroke-width="0.7"/>
<circle cx="113.92" cy="248.15" r="2.4" fill="#2bb0ea" stroke="#111" stroke-width="0.7"/>
<circle cx="113.92" cy="264.32" r="2.4" fill="#a6e6f7" stroke="#111" stroke-width="0.7"/>
<circle cx="124.14" cy="217.68" r="2.4" fill="#0f4378" stroke="#111" stroke-width="0.7"/>
<circle cx="124.14" cy="266.20" r="2.4" fill="#2bb0ea" stroke="#111" stroke-width="0.7"/>
<circle cx="124.14" cy="243.52" r="2.4" fill="#a6e6f7" stroke="#111" stroke-width="0.7"/>
<circle cx="134.36" cy="213.84" r="2.4" fill="#0f4378" stroke="#111" stroke-width="0.7"/>
<circle cx="134.36" cy="266.20" r="2.4" fill="#2bb0ea" stroke="#111" stroke-width="0.7"/>
<circle cx="134.36" cy="257.22" r="2.4" fill="#a6e6f7" stroke="#111" stroke-width="0.7"/>
<circle cx="144.58" cy="245.59" r="2.4" fill="#0f4378" stroke="#111" stroke-width="0.7"/>
<circle cx="144.58" cy="246.18" r="2.4" fill="#2bb0ea" stroke="#111" stroke-width="0.7"/>
<circle cx="144.58" cy="245.00" r="2.4" fill="#4f8094" stroke="#111" stroke-width="0.7"/>
<circle cx="154.80" cy="250.03" r="2.4" fill="#0f4378" stroke="#111" stroke-width="0.7"/>
<circle cx="154.80" cy="257.32" r="2.4" fill="#2bb0ea" stroke="#111" stroke-width="0.7"/>
<circle cx="154.80" cy="253.48" r="2.4" fill="#a6e6f7" stroke="#111" stroke-width="0.7"/>
<circle cx="165.02" cy="261.66" r="2.4" fill="#0f4378" stroke="#111" stroke-width="0.7"/>
<circle cx="165.02" cy="224.59" r="2.4" fill="#2bb0ea" stroke="#111" stroke-width="0.7"/>
<circle cx="165.02" cy="276.94" r="2.4" fill="#a6e6f7" stroke="#111" stroke-width="0.7"/>
<circle cx="175.24" cy="247.07" r="2.4" fill="#0f4378" stroke="#111" stroke-width="0.7"/>
<circle cx="175.24" cy="263.14" r="2.4" fill="#2bb0ea" stroke="#111" stroke-width="0.7"/>
<circle cx="175.24" cy="255.15" r="2.4" fill="#a6e6f7" stroke="#111" stroke-width="0.7"/>
<circle cx="185.46" cy="248.15" r="2.4" fill="#0f4378" stroke="#111" stroke-width="0.7"/>
<circle cx="185.46" cy="253.48" r="2.4" fill="#2bb0ea" stroke="#111" stroke-width="0.7"/>
<circle cx="185.46" cy="266.89" r="2.4" fill="#a6e6f7" stroke="#111" stroke-width="0.7"/>
<circle cx="195.68" cy="252.10" r="2.4" fill="#0f4378" stroke="#111" stroke-width="0.7"/>
<circle cx="195.68" cy="258.21" r="2.4" fill="#2bb0ea" stroke="#111" stroke-width="0.7"/>
<circle cx="195.68" cy="258.50" r="2.4" fill="#a6e6f7" stroke="#111" stroke-width="0.7"/>
<circle cx="205.90" cy="258.50" r="2.4" fill="#0f4378" stroke="#111" stroke-width="0.7"/>
<circle cx="205.90" cy="238.49" r="2.4" fill="#2bb0ea" stroke="#111" stroke-width="0.7"/>
<circle cx="205.90" cy="272.70" r="2.4" fill="#a6e6f7" stroke="#111" stroke-width="0.7"/>
<circle cx="216.12" cy="253.77" r="2.4" fill="#0f4378" stroke="#111" stroke-width="0.7"/>
<circle cx="216.12" cy="255.35" r="2.4" fill="#2bb0ea" stroke="#111" stroke-width="0.7"/>
<circle cx="216.12" cy="262.05" r="2.4" fill="#a6e6f7" stroke="#111" stroke-width="0.7"/>
<circle cx="226.34" cy="261.17" r="2.4" fill="#0f4378" stroke="#111" stroke-width="0.7"/>
<circle cx="226.34" cy="255.15" r="2.4" fill="#2bb0ea" stroke="#111" stroke-width="0.7"/>
<circle cx="226.34" cy="255.15" r="2.4" fill="#a6e6f7" stroke="#111" stroke-width="0.7"/>
<circle cx="236.56" cy="266.89" r="2.4" fill="#0f4378" stroke="#111" stroke-width="0.7"/>
<circle cx="236.56" cy="253.97" r="2.4" fill="#2bb0ea" stroke="#111" stroke-width="0.7"/>
<circle cx="236.56" cy="256.34" r="2.4" fill="#a6e6f7" stroke="#111" stroke-width="0.7"/>
<circle cx="246.78" cy="271.91" r="2.4" fill="#0f4378" stroke="#111" stroke-width="0.7"/>
<circle cx="246.78" cy="253.77" r="2.4" fill="#2bb0ea" stroke="#111" stroke-width="0.7"/>
<circle cx="246.78" cy="257.32" r="2.4" fill="#a6e6f7" stroke="#111" stroke-width="0.7"/>
<circle cx="257.00" cy="265.90" r="2.4" fill="#0f4378" stroke="#111" stroke-width="0.7"/>
<circle cx="257.00" cy="280.00" r="2.4" fill="#2bb0ea" stroke="#111" stroke-width="0.7"/>
<circle cx="257.00" cy="244.21" r="2.4" fill="#a6e6f7" stroke="#111" stroke-width="0.7"/>
<circle cx="267.22" cy="263.14" r="2.4" fill="#0f4378" stroke="#111" stroke-width="0.7"/>
<circle cx="267.22" cy="274.18" r="2.4" fill="#2bb0ea" stroke="#111" stroke-width="0.7"/>
<circle cx="267.22" cy="255.05" r="2.4" fill="#a6e6f7" stroke="#111" stroke-width="0.7"/>
<circle cx="277.44" cy="270.83" r="2.4" fill="#0f4378" stroke="#111" stroke-width="0.7"/>
<circle cx="277.44" cy="259.79" r="2.4" fill="#2bb0ea" stroke="#111" stroke-width="0.7"/>
<circle cx="277.44" cy="265.01" r="2.4" fill="#a6e6f7" stroke="#111" stroke-width="0.7"/>
<circle cx="287.66" cy="273.10" r="2.4" fill="#0f4378" stroke="#111" stroke-width="0.7"/>
<circle cx="287.66" cy="265.31" r="2.4" fill="#a6e6f7" stroke="#111" stroke-width="0.7"/>
<circle cx="287.66" cy="264.82" r="2.4" fill="#2bb0ea" stroke="#111" stroke-width="0.7"/>
<circle cx="297.88" cy="262.05" r="2.4" fill="#0f4378" stroke="#111" stroke-width="0.7"/>
<circle cx="297.88" cy="280.79" r="2.4" fill="#2bb0ea" stroke="#111" stroke-width="0.7"/>
<circle cx="297.88" cy="260.77" r="2.4" fill="#a6e6f7" stroke="#111" stroke-width="0.7"/>
<circle cx="308.10" cy="266.89" r="2.4" fill="#0f4378" stroke="#111" stroke-width="0.7"/>
<circle cx="308.10" cy="273.99" r="2.4" fill="#2bb0ea" stroke="#111" stroke-width="0.7"/>
<circle cx="308.10" cy="261.66" r="2.4" fill="#a6e6f7" stroke="#111" stroke-width="0.7"/>
<circle cx="318.32" cy="270.04" r="2.4" fill="#0f4378" stroke="#111" stroke-width="0.7"/>
<circle cx="318.32" cy="266.89" r="2.4" fill="#2bb0ea" stroke="#111" stroke-width="0.7"/>
<circle cx="318.32" cy="289.56" r="2.4" fill="#a6e6f7" stroke="#111" stroke-width="0.7"/>
<circle cx="328.54" cy="281.48" r="2.4" fill="#0f4378" stroke="#111" stroke-width="0.7"/>
<circle cx="328.54" cy="296.66" r="2.4" fill="#2bb0ea" stroke="#111" stroke-width="0.7"/>
<circle cx="328.54" cy="288.78" r="2.4" fill="#6f9fb0" stroke="#111" stroke-width="0.7"/>
<line x1="49.30" y1="212.66" x2="55.90" y2="212.66" stroke="#333" stroke-width="1.0" />
<line x1="59.52" y1="213.54" x2="66.12" y2="213.54" stroke="#333" stroke-width="1.0" />
<line x1="69.74" y1="219.56" x2="76.34" y2="219.56" stroke="#333" stroke-width="1.0" />
<line x1="79.96" y1="224.19" x2="86.56" y2="224.19" stroke="#333" stroke-width="1.0" />
<line x1="90.18" y1="234.05" x2="96.78" y2="234.05" stroke="#333" stroke-width="1.0" />
<line x1="100.40" y1="235.73" x2="107.00" y2="235.73" stroke="#333" stroke-width="1.0" />
<line x1="110.62" y1="237.50" x2="117.22" y2="237.50" stroke="#333" stroke-width="1.0" />
<line x1="120.84" y1="241.94" x2="127.44" y2="241.94" stroke="#333" stroke-width="1.0" />
<line x1="131.06" y1="245.59" x2="137.66" y2="245.59" stroke="#333" stroke-width="1.0" />
<line x1="141.28" y1="245.59" x2="147.88" y2="245.59" stroke="#333" stroke-width="1.0" stroke-opacity="0.5"/>
<line x1="151.50" y1="253.67" x2="158.10" y2="253.67" stroke="#333" stroke-width="1.0" />
<line x1="161.72" y1="254.36" x2="168.32" y2="254.36" stroke="#333" stroke-width="1.0" />
<line x1="171.94" y1="255.05" x2="178.54" y2="255.05" stroke="#333" stroke-width="1.0" />
<line x1="182.16" y1="256.04" x2="188.76" y2="256.04" stroke="#333" stroke-width="1.0" />
<line x1="192.38" y1="256.24" x2="198.98" y2="256.24" stroke="#333" stroke-width="1.0" />
<line x1="202.60" y1="256.34" x2="209.20" y2="256.34" stroke="#333" stroke-width="1.0" />
<line x1="212.82" y1="257.12" x2="219.42" y2="257.12" stroke="#333" stroke-width="1.0" />
<line x1="223.04" y1="257.32" x2="229.64" y2="257.32" stroke="#333" stroke-width="1.0" />
<line x1="233.26" y1="259.59" x2="239.86" y2="259.59" stroke="#333" stroke-width="1.0" />
<line x1="243.48" y1="261.17" x2="250.08" y2="261.17" stroke="#333" stroke-width="1.0" />
<line x1="253.70" y1="263.53" x2="260.30" y2="263.53" stroke="#333" stroke-width="1.0" />
<line x1="263.92" y1="264.62" x2="270.52" y2="264.62" stroke="#333" stroke-width="1.0" />
<line x1="274.14" y1="265.90" x2="280.74" y2="265.90" stroke="#333" stroke-width="1.0" />
<line x1="284.36" y1="267.28" x2="290.96" y2="267.28" stroke="#333" stroke-width="1.0" />
<line x1="294.58" y1="268.27" x2="301.18" y2="268.27" stroke="#333" stroke-width="1.0" />
<line x1="304.80" y1="267.48" x2="311.40" y2="267.48" stroke="#333" stroke-width="1.0" />
<line x1="315.02" y1="275.37" x2="321.62" y2="275.37" stroke="#333" stroke-width="1.0" />
<line x1="325.24" y1="288.78" x2="331.84" y2="288.78" stroke="#333" stroke-width="1.0" stroke-opacity="0.5"/>
<text x="24.20" y="244.60" font-size="10.2" text-anchor="middle" font-weight="normal" fill="#222" textLength="91.6" lengthAdjust="spacingAndGlyphs" transform="rotate(-90 24.20 244.60)">Specific apoptosis OBS-EXP (%)</text>
<text x="191.30" y="350.80" font-size="10.2" text-anchor="middle" font-weight="normal" fill="#222" textLength="52.8" lengthAdjust="spacingAndGlyphs" >Drug combination</text>
<circle cx="300.1" cy="170.0" r="2.4" fill="#0f4378" stroke="#111" stroke-width="0.7"/>
<text x="305.00" y="172.80" font-size="8.0" text-anchor="start" font-weight="normal" fill="#111" >MM1.s</text>
<circle cx="300.1" cy="183.9" r="2.4" fill="#2bb0ea" stroke="#111" stroke-width="0.7"/>
<text x="305.00" y="186.70" font-size="8.0" text-anchor="start" font-weight="normal" fill="#111" >OPM-2</text>
<circle cx="300.1" cy="197.6" r="2.4" fill="#a6e6f7" stroke="#111" stroke-width="0.7"/>
<text x="305.00" y="200.40" font-size="8.0" text-anchor="start" font-weight="normal" fill="#111" >L363</text>
<text x="9.30" y="370.70" font-size="12.4" text-anchor="start" font-weight="bold" fill="#000" >D</text>
<text x="47.60" y="377.40" font-size="8.0" text-anchor="start" font-weight="normal" fill="#222" >MM1.s</text>
<rect x="47.30" y="382.60" width="22.25" height="22.25" fill="#ec8a8c" stroke="none" stroke-width="1" shape-rendering="crispEdges"/>
<text x="58.27" y="396.38" font-size="7.7" text-anchor="middle" font-weight="bold" fill="#111" stroke="#111" stroke-width="0.25">44.6</text>
<rect x="69.25" y="382.60" width="22.25" height="22.25" fill="#e86466" stroke="none" stroke-width="1" shape-rendering="crispEdges"/>
<text x="80.22" y="396.38" font-size="7.7" text-anchor="middle" font-weight="bold" fill="#fff" stroke="#fff" stroke-width="0.25">62.3</text>
<rect x="91.20" y="382.60" width="22.25" height="22.25" fill="#e54c4f" stroke="none" stroke-width="1" shape-rendering="crispEdges"/>
<text x="102.17" y="396.38" font-size="7.7" text-anchor="middle" font-weight="bold" fill="#fff" stroke="#fff" stroke-width="0.25">72.3</text>
<rect x="113.15" y="382.60" width="22.25" height="22.25" fill="#e22424" stroke="none" stroke-width="1" shape-rendering="crispEdges"/>
<text x="124.12" y="396.38" font-size="7.7" text-anchor="middle" font-weight="bold" fill="#fff" stroke="#fff" stroke-width="0.25">95.1</text>
<rect x="47.30" y="404.55" width="22.25" height="22.25" fill="#f7d0d1" stroke="none" stroke-width="1" shape-rendering="crispEdges"/>
<text x="58.27" y="418.33" font-size="7.7" text-anchor="middle" font-weight="bold" fill="#111" stroke="#111" stroke-width="0.25">16.0</text>
<rect x="69.25" y="404.55" width="22.25" height="22.25" fill="#f4c0c1" stroke="none" stroke-width="1" shape-rendering="crispEdges"/>
<text x="80.22" y="418.33" font-size="7.7" text-anchor="middle" font-weight="bold" fill="#111" stroke="#111" stroke-width="0.25">22.0</text>
<rect x="91.20" y="404.55" width="22.25" height="22.25" fill="#ec8689" stroke="none" stroke-width="1" shape-rendering="crispEdges"/>
<text x="102.17" y="418.33" font-size="7.7" text-anchor="middle" font-weight="bold" fill="#111" stroke="#111" stroke-width="0.25">46.5</text>
<rect x="113.15" y="404.55" width="22.25" height="22.25" fill="#e22222" stroke="none" stroke-width="1" shape-rendering="crispEdges"/>
<text x="124.12" y="418.33" font-size="7.7" text-anchor="middle" font-weight="bold" fill="#fff" stroke="#fff" stroke-width="0.25">95.7</text>
<rect x="47.30" y="426.50" width="22.25" height="22.25" fill="#ffffff" stroke="none" stroke-width="1" shape-rendering="crispEdges"/>
<text x="58.27" y="440.28" font-size="7.7" text-anchor="middle" font-weight="bold" fill="#111" stroke="#111" stroke-width="0.25">0.3</text>
<rect x="69.25" y="426.50" width="22.25" height="22.25" fill="#fffafa" stroke="none" stroke-width="1" shape-rendering="crispEdges"/>
<text x="80.22" y="440.28" font-size="7.7" text-anchor="middle" font-weight="bold" fill="#111" stroke="#111" stroke-width="0.25">2.1</text>
<rect x="91.20" y="426.50" width="22.25" height="22.25" fill="#fdf0f0" stroke="none" stroke-width="1" shape-rendering="crispEdges"/>
<text x="102.17" y="440.28" font-size="7.7" text-anchor="middle" font-weight="bold" fill="#111" stroke="#111" stroke-width="0.25">6.1</text>
<rect x="113.15" y="426.50" width="22.25" height="22.25" fill="#eb7f82" stroke="none" stroke-width="1" shape-rendering="crispEdges"/>
<text x="124.12" y="440.28" font-size="7.7" text-anchor="middle" font-weight="bold" fill="#111" stroke="#111" stroke-width="0.25">49.9</text>
<rect x="47.30" y="448.45" width="22.25" height="22.25" fill="#ffffff" stroke="none" stroke-width="1" shape-rendering="crispEdges"/>
<text x="58.27" y="462.23" font-size="7.7" text-anchor="middle" font-weight="bold" fill="#111" stroke="#111" stroke-width="0.25">0</text>
<rect x="69.25" y="448.45" width="22.25" height="22.25" fill="#fffcfc" stroke="none" stroke-width="1" shape-rendering="crispEdges"/>
<text x="80.22" y="462.23" font-size="7.7" text-anchor="middle" font-weight="bold" fill="#111" stroke="#111" stroke-width="0.25">0.6</text>
<rect x="91.20" y="448.45" width="22.25" height="22.25" fill="#fdf3f3" stroke="none" stroke-width="1" shape-rendering="crispEdges"/>
<text x="102.17" y="462.23" font-size="7.7" text-anchor="middle" font-weight="bold" fill="#111" stroke="#111" stroke-width="0.25">3.4</text>
<rect x="113.15" y="448.45" width="22.25" height="22.25" fill="#f4bcbd" stroke="none" stroke-width="1" shape-rendering="crispEdges"/>
<text x="124.12" y="462.23" font-size="7.7" text-anchor="middle" font-weight="bold" fill="#111" stroke="#111" stroke-width="0.25">25.9</text>
<rect x="47.30" y="382.60" width="87.80" height="87.80" fill="none" stroke="#111" stroke-width="1.3" />
<line x1="44.30" y1="393.58" x2="47.30" y2="393.58" stroke="#111" stroke-width="1.0" />
<text x="41.30" y="396.48" font-size="8.0" text-anchor="end" font-weight="normal" fill="#222" >100</text>
<line x1="44.30" y1="415.53" x2="47.30" y2="415.53" stroke="#111" stroke-width="1.0" />
<text x="41.30" y="418.43" font-size="8.0" text-anchor="end" font-weight="normal" fill="#222" >10</text>
<line x1="44.30" y1="437.48" x2="47.30" y2="437.48" stroke="#111" stroke-width="1.0" />
<text x="41.30" y="440.38" font-size="8.0" text-anchor="end" font-weight="normal" fill="#222" >1</text>
<line x1="44.30" y1="459.43" x2="47.30" y2="459.43" stroke="#111" stroke-width="1.0" />
<text x="41.30" y="462.32" font-size="8.0" text-anchor="end" font-weight="normal" fill="#222" >0</text>
<line x1="58.27" y1="470.40" x2="58.27" y2="473.80" stroke="#111" stroke-width="1.0" />
<text x="58.27" y="482.00" font-size="8.1" text-anchor="middle" font-weight="normal" fill="#222" >0</text>
<line x1="80.22" y1="470.40" x2="80.22" y2="473.80" stroke="#111" stroke-width="1.0" />
<text x="80.22" y="482.00" font-size="8.1" text-anchor="middle" font-weight="normal" fill="#222" >1</text>
<line x1="102.17" y1="470.40" x2="102.17" y2="473.80" stroke="#111" stroke-width="1.0" />
<text x="102.17" y="482.00" font-size="8.1" text-anchor="middle" font-weight="normal" fill="#222" >10</text>
<line x1="124.12" y1="470.40" x2="124.12" y2="473.80" stroke="#111" stroke-width="1.0" />
<text x="124.12" y="482.00" font-size="8.1" text-anchor="middle" font-weight="normal" fill="#222" >100</text>
<text x="90.50" y="494.20" font-size="10.0" text-anchor="middle" font-weight="normal" fill="#222" textLength="37.9" lengthAdjust="spacingAndGlyphs" >MCL-1i (nM)</text>
<text x="23.90" y="426.50" font-size="10.0" text-anchor="middle" font-weight="normal" fill="#222" textLength="28.6" lengthAdjust="spacingAndGlyphs" transform="rotate(-90 23.90 426.50)">DEX (nM)</text>
<text x="177.20" y="377.40" font-size="8.0" text-anchor="start" font-weight="normal" fill="#222" >OPM-2</text>
<rect x="176.90" y="382.60" width="22.25" height="22.25" fill="#ea7a7c" stroke="none" stroke-width="1" shape-rendering="crispEdges"/>
<text x="187.88" y="396.38" font-size="7.7" text-anchor="middle" font-weight="bold" fill="#111" stroke="#111" stroke-width="0.25">53.0</text>
<rect x="198.85" y="382.60" width="22.25" height="22.25" fill="#e86062" stroke="none" stroke-width="1" shape-rendering="crispEdges"/>
<text x="209.82" y="396.38" font-size="7.7" text-anchor="middle" font-weight="bold" fill="#fff" stroke="#fff" stroke-width="0.25">62.2</text>
<rect x="220.80" y="382.60" width="22.25" height="22.25" fill="#e22626" stroke="none" stroke-width="1" shape-rendering="crispEdges"/>
<text x="231.78" y="396.38" font-size="7.7" text-anchor="middle" font-weight="bold" fill="#fff" stroke="#fff" stroke-width="0.25">92.2</text>
<rect x="242.75" y="382.60" width="22.25" height="22.25" fill="#e02020" stroke="none" stroke-width="1" shape-rendering="crispEdges"/>
<text x="253.73" y="396.38" font-size="7.7" text-anchor="middle" font-weight="bold" fill="#fff" stroke="#fff" stroke-width="0.25">100</text>
<rect x="176.90" y="404.55" width="22.25" height="22.25" fill="#f8d4d5" stroke="none" stroke-width="1" shape-rendering="crispEdges"/>
<text x="187.88" y="418.33" font-size="7.7" text-anchor="middle" font-weight="bold" fill="#111" stroke="#111" stroke-width="0.25">16.3</text>
<rect x="198.85" y="404.55" width="22.25" height="22.25" fill="#f1b4b6" stroke="none" stroke-width="1" shape-rendering="crispEdges"/>
<text x="209.82" y="418.33" font-size="7.7" text-anchor="middle" font-weight="bold" fill="#111" stroke="#111" stroke-width="0.25">24.6</text>
<rect x="220.80" y="404.55" width="22.25" height="22.25" fill="#e5484b" stroke="none" stroke-width="1" shape-rendering="crispEdges"/>
<text x="231.78" y="418.33" font-size="7.7" text-anchor="middle" font-weight="bold" fill="#fff" stroke="#fff" stroke-width="0.25">70.0</text>
<rect x="242.75" y="404.55" width="22.25" height="22.25" fill="#e02121" stroke="none" stroke-width="1" shape-rendering="crispEdges"/>
<text x="253.73" y="418.33" font-size="7.7" text-anchor="middle" font-weight="bold" fill="#fff" stroke="#fff" stroke-width="0.25">99.9</text>
<rect x="176.90" y="426.50" width="22.25" height="22.25" fill="#ffffff" stroke="none" stroke-width="1" shape-rendering="crispEdges"/>
<text x="187.88" y="440.28" font-size="7.7" text-anchor="middle" font-weight="bold" fill="#111" stroke="#111" stroke-width="0.25">0</text>
<rect x="198.85" y="426.50" width="22.25" height="22.25" fill="#fffafa" stroke="none" stroke-width="1" shape-rendering="crispEdges"/>
<text x="209.82" y="440.28" font-size="7.7" text-anchor="middle" font-weight="bold" fill="#111" stroke="#111" stroke-width="0.25">2.0</text>
<rect x="220.80" y="426.50" width="22.25" height="22.25" fill="#fdf0f0" stroke="none" stroke-width="1" shape-rendering="crispEdges"/>
<text x="231.78" y="440.28" font-size="7.7" text-anchor="middle" font-weight="bold" fill="#111" stroke="#111" stroke-width="0.25">31.2</text>
<rect x="242.75" y="426.50" width="22.25" height="22.25" fill="#e02121" stroke="none" stroke-width="1" shape-rendering="crispEdges"/>
<text x="253.73" y="440.28" font-size="7.7" text-anchor="middle" font-weight="bold" fill="#fff" stroke="#fff" stroke-width="0.25">99.3</text>
<rect x="176.90" y="448.45" width="22.25" height="22.25" fill="#ffffff" stroke="none" stroke-width="1" shape-rendering="crispEdges"/>
<text x="187.88" y="462.23" font-size="7.7" text-anchor="middle" font-weight="bold" fill="#111" stroke="#111" stroke-width="0.25">0</text>
<rect x="198.85" y="448.45" width="22.25" height="22.25" fill="#fffbfb" stroke="none" stroke-width="1" shape-rendering="crispEdges"/>
<text x="209.82" y="462.23" font-size="7.7" text-anchor="middle" font-weight="bold" fill="#111" stroke="#111" stroke-width="0.25">0.5</text>
<rect x="220.80" y="448.45" width="22.25" height="22.25" fill="#fdf3f3" stroke="none" stroke-width="1" shape-rendering="crispEdges"/>
<text x="231.78" y="462.23" font-size="7.7" text-anchor="middle" font-weight="bold" fill="#111" stroke="#111" stroke-width="0.25">23.4</text>
<rect x="242.75" y="448.45" width="22.25" height="22.25" fill="#e02222" stroke="none" stroke-width="1" shape-rendering="crispEdges"/>
<text x="253.73" y="462.23" font-size="7.7" text-anchor="middle" font-weight="bold" fill="#fff" stroke="#fff" stroke-width="0.25">98.9</text>
<rect x="176.90" y="382.60" width="87.80" height="87.80" fill="none" stroke="#111" stroke-width="1.3" />
<line x1="173.90" y1="393.58" x2="176.90" y2="393.58" stroke="#111" stroke-width="1.0" />
<text x="170.90" y="396.48" font-size="8.0" text-anchor="end" font-weight="normal" fill="#222" >100</text>
<line x1="173.90" y1="415.53" x2="176.90" y2="415.53" stroke="#111" stroke-width="1.0" />
<text x="170.90" y="418.43" font-size="8.0" text-anchor="end" font-weight="normal" fill="#222" >10</text>
<line x1="173.90" y1="437.48" x2="176.90" y2="437.48" stroke="#111" stroke-width="1.0" />
<text x="170.90" y="440.38" font-size="8.0" text-anchor="end" font-weight="normal" fill="#222" >1</text>
<line x1="173.90" y1="459.43" x2="176.90" y2="459.43" stroke="#111" stroke-width="1.0" />
<text x="170.90" y="462.32" font-size="8.0" text-anchor="end" font-weight="normal" fill="#222" >0</text>
<line x1="187.88" y1="470.40" x2="187.88" y2="473.80" stroke="#111" stroke-width="1.0" />
<text x="187.88" y="482.00" font-size="8.1" text-anchor="middle" font-weight="normal" fill="#222" >0</text>
<line x1="209.82" y1="470.40" x2="209.82" y2="473.80" stroke="#111" stroke-width="1.0" />
<text x="209.82" y="482.00" font-size="8.1" text-anchor="middle" font-weight="normal" fill="#222" >1</text>
<line x1="231.78" y1="470.40" x2="231.78" y2="473.80" stroke="#111" stroke-width="1.0" />
<text x="231.78" y="482.00" font-size="8.1" text-anchor="middle" font-weight="normal" fill="#222" >10</text>
<line x1="253.73" y1="470.40" x2="253.73" y2="473.80" stroke="#111" stroke-width="1.0" />
<text x="253.73" y="482.00" font-size="8.1" text-anchor="middle" font-weight="normal" fill="#222" >100</text>
<text x="220.10" y="494.20" font-size="10.0" text-anchor="middle" font-weight="normal" fill="#222" textLength="37.9" lengthAdjust="spacingAndGlyphs" >MCL-1i (nM)</text>
<text x="156.00" y="426.50" font-size="10.0" text-anchor="middle" font-weight="normal" fill="#222" textLength="28.6" lengthAdjust="spacingAndGlyphs" transform="rotate(-90 156.00 426.50)">DEX (nM)</text>
<text x="307.10" y="377.40" font-size="8.0" text-anchor="start" font-weight="normal" fill="#222" >L363</text>
<rect x="306.80" y="382.60" width="22.25" height="22.25" fill="#f4c0c1" stroke="none" stroke-width="1" shape-rendering="crispEdges"/>
<text x="317.78" y="396.38" font-size="7.7" text-anchor="middle" font-weight="bold" fill="#111" stroke="#111" stroke-width="0.25">24.7</text>
<rect x="328.75" y="382.60" width="22.25" height="22.25" fill="#f2b2b4" stroke="none" stroke-width="1" shape-rendering="crispEdges"/>
<text x="339.73" y="396.38" font-size="7.7" text-anchor="middle" font-weight="bold" fill="#111" stroke="#111" stroke-width="0.25">36.1</text>
<rect x="350.70" y="382.60" width="22.25" height="22.25" fill="#ec8c8f" stroke="none" stroke-width="1" shape-rendering="crispEdges"/>
<text x="361.68" y="396.38" font-size="7.7" text-anchor="middle" font-weight="bold" fill="#111" stroke="#111" stroke-width="0.25">48.8</text>
<rect x="372.65" y="382.60" width="22.25" height="22.25" fill="#e22a2b" stroke="none" stroke-width="1" shape-rendering="crispEdges"/>
<text x="383.62" y="396.38" font-size="7.7" text-anchor="middle" font-weight="bold" fill="#fff" stroke="#fff" stroke-width="0.25">91.0</text>
<rect x="306.80" y="404.55" width="22.25" height="22.25" fill="#fbe6e6" stroke="none" stroke-width="1" shape-rendering="crispEdges"/>
<text x="317.78" y="418.33" font-size="7.7" text-anchor="middle" font-weight="bold" fill="#111" stroke="#111" stroke-width="0.25">8.2</text>
<rect x="328.75" y="404.55" width="22.25" height="22.25" fill="#fbe2e2" stroke="none" stroke-width="1" shape-rendering="crispEdges"/>
<text x="339.73" y="418.33" font-size="7.7" text-anchor="middle" font-weight="bold" fill="#111" stroke="#111" stroke-width="0.25">10.4</text>
<rect x="350.70" y="404.55" width="22.25" height="22.25" fill="#f6caca" stroke="none" stroke-width="1" shape-rendering="crispEdges"/>
<text x="361.68" y="418.33" font-size="7.7" text-anchor="middle" font-weight="bold" fill="#111" stroke="#111" stroke-width="0.25">19.6</text>
<rect x="372.65" y="404.55" width="22.25" height="22.25" fill="#e65458" stroke="none" stroke-width="1" shape-rendering="crispEdges"/>
<text x="383.62" y="418.33" font-size="7.7" text-anchor="middle" font-weight="bold" fill="#fff" stroke="#fff" stroke-width="0.25">70.5</text>
<rect x="306.80" y="426.50" width="22.25" height="22.25" fill="#fef8f8" stroke="none" stroke-width="1" shape-rendering="crispEdges"/>
<text x="317.78" y="440.28" font-size="7.7" text-anchor="middle" font-weight="bold" fill="#111" stroke="#111" stroke-width="0.25">2.5</text>
<rect x="328.75" y="426.50" width="22.25" height="22.25" fill="#fdf6f6" stroke="none" stroke-width="1" shape-rendering="crispEdges"/>
<text x="339.73" y="440.28" font-size="7.7" text-anchor="middle" font-weight="bold" fill="#111" stroke="#111" stroke-width="0.25">2.0</text>
<rect x="350.70" y="426.50" width="22.25" height="22.25" fill="#fbe6e6" stroke="none" stroke-width="1" shape-rendering="crispEdges"/>
<text x="361.68" y="440.28" font-size="7.7" text-anchor="middle" font-weight="bold" fill="#111" stroke="#111" stroke-width="0.25">8.9</text>
<rect x="372.65" y="426.50" width="22.25" height="22.25" fill="#ec7e82" stroke="none" stroke-width="1" shape-rendering="crispEdges"/>
<text x="383.62" y="440.28" font-size="7.7" text-anchor="middle" font-weight="bold" fill="#111" stroke="#111" stroke-width="0.25">51.7</text>
<rect x="306.80" y="448.45" width="22.25" height="22.25" fill="#ffffff" stroke="none" stroke-width="1" shape-rendering="crispEdges"/>
<text x="317.78" y="462.23" font-size="7.7" text-anchor="middle" font-weight="bold" fill="#111" stroke="#111" stroke-width="0.25">0</text>
<rect x="328.75" y="448.45" width="22.25" height="22.25" fill="#fdf6f6" stroke="none" stroke-width="1" shape-rendering="crispEdges"/>
<text x="339.73" y="462.23" font-size="7.7" text-anchor="middle" font-weight="bold" fill="#111" stroke="#111" stroke-width="0.25">2.0</text>
<rect x="350.70" y="448.45" width="22.25" height="22.25" fill="#fbe8e8" stroke="none" stroke-width="1" shape-rendering="crispEdges"/>
<text x="361.68" y="462.23" font-size="7.7" text-anchor="middle" font-weight="bold" fill="#111" stroke="#111" stroke-width="0.25">7.4</text>
<rect x="372.65" y="448.45" width="22.25" height="22.25" fill="#ed8a8d" stroke="none" stroke-width="1" shape-rendering="crispEdges"/>
<text x="383.62" y="462.23" font-size="7.7" text-anchor="middle" font-weight="bold" fill="#111" stroke="#111" stroke-width="0.25">45.2</text>
<rect x="306.80" y="382.60" width="87.80" height="87.80" fill="none" stroke="#111" stroke-width="1.3" />
<line x1="303.80" y1="393.58" x2="306.80" y2="393.58" stroke="#111" stroke-width="1.0" />
<text x="300.80" y="396.48" font-size="8.0" text-anchor="end" font-weight="normal" fill="#222" >100</text>
<line x1="303.80" y1="415.53" x2="306.80" y2="415.53" stroke="#111" stroke-width="1.0" />
<text x="300.80" y="418.43" font-size="8.0" text-anchor="end" font-weight="normal" fill="#222" >10</text>
<line x1="303.80" y1="437.48" x2="306.80" y2="437.48" stroke="#111" stroke-width="1.0" />
<text x="300.80" y="440.38" font-size="8.0" text-anchor="end" font-weight="normal" fill="#222" >1</text>
<line x1="303.80" y1="459.43" x2="306.80" y2="459.43" stroke="#111" stroke-width="1.0" />
<text x="300.80" y="462.32" font-size="8.0" text-anchor="end" font-weight="normal" fill="#222" >0</text>
<line x1="317.78" y1="470.40" x2="317.78" y2="473.80" stroke="#111" stroke-width="1.0" />
<text x="317.78" y="482.00" font-size="8.1" text-anchor="middle" font-weight="normal" fill="#222" >0</text>
<line x1="339.73" y1="470.40" x2="339.73" y2="473.80" stroke="#111" stroke-width="1.0" />
<text x="339.73" y="482.00" font-size="8.1" text-anchor="middle" font-weight="normal" fill="#222" >5</text>
<line x1="361.68" y1="470.40" x2="361.68" y2="473.80" stroke="#111" stroke-width="1.0" />
<text x="361.68" y="482.00" font-size="8.1" text-anchor="middle" font-weight="normal" fill="#222" >10</text>
<line x1="383.62" y1="470.40" x2="383.62" y2="473.80" stroke="#111" stroke-width="1.0" />
<text x="383.62" y="482.00" font-size="8.1" text-anchor="middle" font-weight="normal" fill="#222" >25</text>
<text x="350.00" y="494.20" font-size="10.0" text-anchor="middle" font-weight="normal" fill="#222" textLength="37.9" lengthAdjust="spacingAndGlyphs" >MCL-1i (nM)</text>
<text x="286.00" y="426.50" font-size="10.0" text-anchor="middle" font-weight="normal" fill="#222" textLength="28.6" lengthAdjust="spacingAndGlyphs" transform="rotate(-90 286.00 426.50)">DEX (nM)</text>
<defs><linearGradient id="cbD" x1="0" x2="0" y1="0" y2="1"><stop offset="0" stop-color="#e01f1f"/><stop offset="0.5" stop-color="#ee8a8a"/><stop offset="1" stop-color="#ffffff"/></linearGradient></defs>
<rect x="419.70" y="383.80" width="10.60" height="83.20" fill="url(#cbD)" stroke="none" stroke-width="1" />
<text x="433.30" y="390.30" font-size="7.9" text-anchor="start" font-weight="normal" fill="#222" >100</text>
<text x="433.50" y="467.80" font-size="7.9" text-anchor="start" font-weight="normal" fill="#222" >0</text>
<text x="414.60" y="426.50" font-size="9.4" text-anchor="middle" font-weight="normal" fill="#333" textLength="89" lengthAdjust="spacingAndGlyphs" transform="rotate(-90 414.60 426.50)">Specific apoptosis (%)</text>
<text x="9.40" y="518.20" font-size="12.4" text-anchor="start" font-weight="bold" fill="#000" >E</text>
<line x1="47.80" y1="541.60" x2="47.80" y2="653.00" stroke="#111" stroke-width="1.1" />
<line x1="47.30" y1="652.50" x2="272.20" y2="652.50" stroke="#111" stroke-width="1.1" />
<line x1="45.00" y1="542.00" x2="47.80" y2="542.00" stroke="#111" stroke-width="0.9" />
<text x="42.70" y="545.40" font-size="7.9" text-anchor="end" font-weight="normal" fill="#222" >100</text>
<line x1="45.00" y1="569.62" x2="47.80" y2="569.62" stroke="#111" stroke-width="0.9" />
<text x="42.70" y="573.02" font-size="7.9" text-anchor="end" font-weight="normal" fill="#222" >75</text>
<line x1="45.00" y1="597.25" x2="47.80" y2="597.25" stroke="#111" stroke-width="0.9" />
<text x="42.70" y="600.65" font-size="7.9" text-anchor="end" font-weight="normal" fill="#222" >50</text>
<line x1="45.00" y1="624.88" x2="47.80" y2="624.88" stroke="#111" stroke-width="0.9" />
<text x="42.70" y="628.27" font-size="7.9" text-anchor="end" font-weight="normal" fill="#222" >25</text>
<line x1="45.00" y1="652.50" x2="47.80" y2="652.50" stroke="#111" stroke-width="0.9" />
<text x="42.70" y="655.90" font-size="7.9" text-anchor="end" font-weight="normal" fill="#222" >0</text>
<line x1="122.30" y1="542.50" x2="122.30" y2="647.00" stroke="#333" stroke-width="1.4" stroke-dasharray="5 5.17" stroke-dashoffset="2.37"/>
<line x1="122.00" y1="652.50" x2="122.00" y2="655.20" stroke="#111" stroke-width="0.9" />
<line x1="197.30" y1="542.50" x2="197.30" y2="647.00" stroke="#333" stroke-width="1.4" stroke-dasharray="5 5.17" stroke-dashoffset="2.37"/>
<line x1="197.00" y1="652.50" x2="197.00" y2="655.20" stroke="#111" stroke-width="0.9" />
<text x="23.80" y="598.20" font-size="9.0" text-anchor="middle" font-weight="normal" fill="#222" textLength="68.3" lengthAdjust="spacingAndGlyphs" transform="rotate(-90 23.80 598.20)">Specific apoptosis (%)</text>
<text x="48.00" y="525.00" font-size="7.6" text-anchor="start" font-weight="normal" fill="#222" >MM1.s</text>
<text x="122.60" y="525.00" font-size="7.6" text-anchor="start" font-weight="normal" fill="#222" >OPM-2</text>
<text x="197.00" y="525.00" font-size="7.6" text-anchor="start" font-weight="normal" fill="#222" >L363</text>
<text x="85.0" y="536.4" font-size="7.6" text-anchor="middle" fill="#222"><tspan font-style="italic">p</tspan> = 0.003</text>
<line x1="67.00" y1="538.70" x2="102.70" y2="538.70" stroke="#222" stroke-width="1.1" />
<text x="159.4" y="536.4" font-size="7.6" text-anchor="middle" fill="#222"><tspan font-style="italic">p</tspan> = 0.04</text>
<line x1="141.00" y1="538.70" x2="177.50" y2="538.70" stroke="#222" stroke-width="1.1" />
<text x="234.3" y="536.4" font-size="7.6" text-anchor="middle" fill="#222"><tspan font-style="italic">p</tspan> = 0.002</text>
<line x1="217.00" y1="538.70" x2="252.50" y2="538.70" stroke="#222" stroke-width="1.1" />
<line x1="68.80" y1="600.57" x2="100.40" y2="543.66" stroke="#1a1a1a" stroke-width="1.0" />
<line x1="68.80" y1="613.71" x2="100.40" y2="544.76" stroke="#1a1a1a" stroke-width="1.0" />
<line x1="68.80" y1="617.36" x2="100.40" y2="552.39" stroke="#1a1a1a" stroke-width="1.0" />
<circle cx="68.8" cy="600.57" r="2.5" fill="#2bb0ea" stroke="#111" stroke-width="0.7"/>
<circle cx="68.8" cy="613.71" r="2.5" fill="#2bb0ea" stroke="#111" stroke-width="0.7"/>
<circle cx="68.8" cy="617.36" r="2.5" fill="#2bb0ea" stroke="#111" stroke-width="0.7"/>
<circle cx="100.4" cy="543.66" r="2.5" fill="#0f4378" stroke="#111" stroke-width="0.7"/>
<circle cx="100.4" cy="544.76" r="2.5" fill="#0f4378" stroke="#111" stroke-width="0.7"/>
<circle cx="100.4" cy="552.39" r="2.5" fill="#0f4378" stroke="#111" stroke-width="0.7"/>
<line x1="143.75" y1="598.58" x2="175.50" y2="575.26" stroke="#1a1a1a" stroke-width="1.0" />
<line x1="143.75" y1="618.02" x2="175.50" y2="564.76" stroke="#1a1a1a" stroke-width="1.0" />
<line x1="143.75" y1="625.98" x2="175.50" y2="584.76" stroke="#1a1a1a" stroke-width="1.0" />
<circle cx="143.75" cy="598.58" r="2.5" fill="#2bb0ea" stroke="#111" stroke-width="0.7"/>
<circle cx="143.75" cy="618.02" r="2.5" fill="#2bb0ea" stroke="#111" stroke-width="0.7"/>
<circle cx="143.75" cy="625.98" r="2.5" fill="#2bb0ea" stroke="#111" stroke-width="0.7"/>
<circle cx="175.5" cy="575.26" r="2.5" fill="#0f4378" stroke="#111" stroke-width="0.7"/>
<circle cx="175.5" cy="564.76" r="2.5" fill="#0f4378" stroke="#111" stroke-width="0.7"/>
<circle cx="175.5" cy="584.76" r="2.5" fill="#0f4378" stroke="#111" stroke-width="0.7"/>
<line x1="219.00" y1="614.82" x2="250.25" y2="570.29" stroke="#1a1a1a" stroke-width="1.0" />
<line x1="219.00" y1="619.79" x2="250.25" y2="582.55" stroke="#1a1a1a" stroke-width="1.0" />
<line x1="219.00" y1="633.05" x2="250.25" y2="594.27" stroke="#1a1a1a" stroke-width="1.0" />
<circle cx="219.0" cy="614.82" r="2.5" fill="#2bb0ea" stroke="#111" stroke-width="0.7"/>
<circle cx="219.0" cy="619.79" r="2.5" fill="#2bb0ea" stroke="#111" stroke-width="0.7"/>
<circle cx="219.0" cy="633.05" r="2.5" fill="#2bb0ea" stroke="#111" stroke-width="0.7"/>
<circle cx="250.25" cy="570.29" r="2.5" fill="#0f4378" stroke="#111" stroke-width="0.7"/>
<circle cx="250.25" cy="582.55" r="2.5" fill="#0f4378" stroke="#111" stroke-width="0.7"/>
<circle cx="250.25" cy="594.27" r="2.5" fill="#0f4378" stroke="#111" stroke-width="0.7"/>
<text x="56.00" y="662.00" font-size="7.7" text-anchor="start" font-weight="normal" fill="#222" >100 nM MCL-1i</text>
<text x="56.00" y="671.30" font-size="7.7" text-anchor="start" font-weight="normal" fill="#222" >10 nM DEX</text>
<text x="133.80" y="662.00" font-size="7.7" text-anchor="start" font-weight="normal" fill="#222" >10 nM MCL-1i</text>
<text x="133.80" y="671.30" font-size="7.7" text-anchor="start" font-weight="normal" fill="#222" >10 nM DEX</text>
<text x="208.80" y="662.00" font-size="7.7" text-anchor="start" font-weight="normal" fill="#222" >10 nM MCL-1i</text>
<text x="208.80" y="671.30" font-size="7.7" text-anchor="start" font-weight="normal" fill="#222" >10 &#181;M DEX</text>
<circle cx="274.5" cy="547.0" r="2.5" fill="#2bb0ea" stroke="#111" stroke-width="0.7"/>
<circle cx="274.5" cy="558.0" r="2.5" fill="#0f4378" stroke="#111" stroke-width="0.7"/>
<text x="278.60" y="549.40" font-size="7.8" text-anchor="start" font-weight="normal" fill="#222" >EXP</text>
<text x="278.60" y="560.20" font-size="7.8" text-anchor="start" font-weight="normal" fill="#222" >OBS</text>
<text x="310.40" y="518.10" font-size="12.4" text-anchor="start" font-weight="bold" fill="#000" >F</text>
<defs><filter id="b07" x="-30%" y="-80%" width="160%" height="260%"><feGaussianBlur stdDeviation="0.7"/></filter><filter id="b09" x="-30%" y="-80%" width="160%" height="260%"><feGaussianBlur stdDeviation="0.85"/></filter><filter id="b10" x="-30%" y="-80%" width="160%" height="260%"><feGaussianBlur stdDeviation="1.0"/></filter><filter id="b14" x="-30%" y="-80%" width="160%" height="260%"><feGaussianBlur stdDeviation="1.4"/></filter></defs>
<text x="378.00" y="533.80" font-size="7.9" text-anchor="middle" font-weight="normal" fill="#222" >MM1.s</text>
<line x1="358.60" y1="537.20" x2="397.30" y2="537.20" stroke="#222" stroke-width="1.1" />
<text x="430.50" y="533.80" font-size="7.9" text-anchor="middle" font-weight="normal" fill="#222" >OPM-2</text>
<line x1="411.30" y1="537.20" x2="450.40" y2="537.20" stroke="#222" stroke-width="1.1" />
<text x="482.40" y="533.80" font-size="7.9" text-anchor="middle" font-weight="normal" fill="#222" >L363</text>
<line x1="463.00" y1="537.20" x2="502.00" y2="537.20" stroke="#222" stroke-width="1.1" />
<text x="346.00" y="548.80" font-size="7.9" text-anchor="end" font-weight="normal" fill="#222" >DEX:</text>
<text x="365.60" y="548.60" font-size="7.9" text-anchor="middle" font-weight="normal" fill="#222" >-</text>
<text x="416.80" y="548.60" font-size="7.9" text-anchor="middle" font-weight="normal" fill="#222" >-</text>
<text x="468.60" y="548.60" font-size="7.9" text-anchor="middle" font-weight="normal" fill="#222" >-</text>
<text x="390.50" y="548.80" font-size="7.9" text-anchor="middle" font-weight="normal" fill="#222" >+</text>
<text x="443.20" y="548.80" font-size="7.9" text-anchor="middle" font-weight="normal" fill="#222" >+</text>
<text x="495.00" y="548.80" font-size="7.9" text-anchor="middle" font-weight="normal" fill="#222" >+</text>
<text x="349.80" y="562.80" font-size="7.9" text-anchor="end" font-weight="normal" fill="#222" >MCL-1</text>
<rect x="352.50" y="552.50" width="50.50" height="14.80" fill="#f6f6f6" stroke="none" stroke-width="1" />
<rect x="356.10" y="557.80" width="19.40" height="4.40" rx="1.5" fill="#363636" filter="url(#b09)"/>
<rect x="380.10" y="557.80" width="19.40" height="4.40" rx="1.5" fill="#383838" filter="url(#b09)"/>
<rect x="353.10" y="553.10" width="49.30" height="13.60" fill="none" stroke="#1e1e1e" stroke-width="1.2" />
<rect x="405.60" y="552.50" width="50.00" height="14.80" fill="#f6f6f6" stroke="none" stroke-width="1" />
<rect x="409.20" y="558.00" width="19.40" height="4.00" rx="1.5" fill="#868686" filter="url(#b09)"/>
<rect x="433.20" y="557.40" width="19.40" height="4.80" rx="1.5" fill="#404040" filter="url(#b09)"/>
<rect x="406.20" y="553.10" width="48.80" height="13.60" fill="none" stroke="#1e1e1e" stroke-width="1.2" />
<rect x="458.30" y="552.50" width="50.20" height="14.80" fill="#f6f6f6" stroke="none" stroke-width="1" />
<rect x="461.90" y="557.80" width="19.40" height="4.20" rx="1.5" fill="#5a5a5a" filter="url(#b09)"/>
<rect x="485.90" y="557.60" width="19.40" height="4.60" rx="1.5" fill="#383838" filter="url(#b09)"/>
<rect x="458.90" y="553.10" width="49.00" height="13.60" fill="none" stroke="#1e1e1e" stroke-width="1.2" />
<text x="349.80" y="581.45" font-size="7.9" text-anchor="end" font-weight="normal" fill="#222" >BCL-2</text>
<rect x="352.50" y="570.40" width="50.50" height="16.30" fill="#f6f6f6" stroke="none" stroke-width="1" />
<rect x="356.10" y="574.20" width="19.40" height="7.40" rx="1.5" fill="#808080" filter="url(#b14)"/>
<rect x="380.10" y="574.20" width="19.40" height="7.40" rx="1.5" fill="#8c8c8c" filter="url(#b14)"/>
<rect x="353.10" y="571.00" width="49.30" height="15.10" fill="none" stroke="#1e1e1e" stroke-width="1.2" />
<rect x="405.60" y="570.40" width="50.00" height="16.30" fill="#f6f6f6" stroke="none" stroke-width="1" />
<rect x="409.20" y="574.00" width="19.40" height="8.00" rx="1.5" fill="#7a7a7a" filter="url(#b14)"/>
<rect x="433.20" y="574.20" width="19.40" height="7.60" rx="1.5" fill="#9c9c9c" filter="url(#b14)"/>
<rect x="406.20" y="571.00" width="48.80" height="15.10" fill="none" stroke="#1e1e1e" stroke-width="1.2" />
<rect x="458.30" y="570.40" width="50.20" height="16.30" fill="#f6f6f6" stroke="none" stroke-width="1" />
<rect x="461.90" y="575.40" width="19.40" height="6.00" rx="1.5" fill="#1e1e1e" filter="url(#b10)"/>
<rect x="485.90" y="575.60" width="19.40" height="5.60" rx="1.5" fill="#282828" filter="url(#b10)"/>
<rect x="458.90" y="571.00" width="49.00" height="15.10" fill="none" stroke="#1e1e1e" stroke-width="1.2" />
<text x="349.80" y="601.10" font-size="7.9" text-anchor="end" font-weight="normal" fill="#222" >&#945;-tubulin</text>
<rect x="352.50" y="588.90" width="50.50" height="18.60" fill="#f6f6f6" stroke="none" stroke-width="1" />
<rect x="355.30" y="592.80" width="21.00" height="9.80" rx="1.5" fill="#888888" filter="url(#b10)"/>
<rect x="379.10" y="592.80" width="21.20" height="9.80" rx="1.5" fill="#8e8e8e" filter="url(#b10)"/>
<rect x="353.10" y="589.50" width="49.30" height="17.40" fill="none" stroke="#1e1e1e" stroke-width="1.2" />
<rect x="405.60" y="588.90" width="50.00" height="18.60" fill="#f6f6f6" stroke="none" stroke-width="1" />
<rect x="408.40" y="592.60" width="21.00" height="10.20" rx="1.5" fill="#878787" filter="url(#b10)"/>
<rect x="432.20" y="592.60" width="21.20" height="10.20" rx="1.5" fill="#909090" filter="url(#b10)"/>
<rect x="406.20" y="589.50" width="48.80" height="17.40" fill="none" stroke="#1e1e1e" stroke-width="1.2" />
<rect x="458.30" y="588.90" width="50.20" height="18.60" fill="#f6f6f6" stroke="none" stroke-width="1" />
<rect x="461.10" y="592.80" width="21.00" height="9.80" rx="1.5" fill="#979797" filter="url(#b10)"/>
<rect x="484.90" y="592.80" width="21.20" height="9.80" rx="1.5" fill="#969696" filter="url(#b10)"/>
<rect x="458.90" y="589.50" width="49.00" height="17.40" fill="none" stroke="#1e1e1e" stroke-width="1.2" />
<text x="349.80" y="625.75" font-size="7.9" text-anchor="end" font-weight="normal" fill="#222" >BCL-XL</text>
<rect x="352.50" y="613.20" width="50.50" height="19.30" fill="#f6f6f6" stroke="none" stroke-width="1" />
<rect x="355.30" y="615.60" width="21.00" height="5.40" rx="1.5" fill="#5a5a5a" filter="url(#b14)"/>
<rect x="379.10" y="615.60" width="21.20" height="5.40" rx="1.5" fill="#5e5e5e" filter="url(#b14)"/>
<rect x="354.50" y="620.00" width="46.50" height="8.80" rx="1.5" fill="#3a3a3a" filter="url(#b14)"/>
<rect x="355.30" y="619.60" width="21.00" height="9.00" rx="1.5" fill="#101010" filter="url(#b10)"/>
<rect x="379.10" y="619.60" width="21.20" height="9.00" rx="1.5" fill="#141414" filter="url(#b10)"/>
<rect x="353.10" y="613.80" width="49.30" height="18.10" fill="none" stroke="#1e1e1e" stroke-width="1.2" />
<rect x="405.60" y="613.20" width="50.00" height="19.30" fill="#f6f6f6" stroke="none" stroke-width="1" />
<rect x="408.40" y="615.80" width="21.00" height="4.60" rx="1.5" fill="#d4d4d4" filter="url(#b14)"/>
<rect x="432.20" y="615.80" width="21.20" height="4.60" rx="1.5" fill="#dadada" filter="url(#b14)"/>
<rect x="408.40" y="620.20" width="21.00" height="7.20" rx="1.5" fill="#9e9e9e" filter="url(#b14)"/>
<rect x="432.20" y="620.40" width="21.20" height="6.80" rx="1.5" fill="#b2b2b2" filter="url(#b14)"/>
<rect x="406.20" y="613.80" width="48.80" height="18.10" fill="none" stroke="#1e1e1e" stroke-width="1.2" />
<rect x="458.30" y="613.20" width="50.20" height="19.30" fill="#f6f6f6" stroke="none" stroke-width="1" />
<rect x="461.10" y="615.80" width="21.00" height="4.40" rx="1.5" fill="#c8c8c8" filter="url(#b14)"/>
<rect x="484.90" y="615.80" width="21.20" height="4.40" rx="1.5" fill="#cccccc" filter="url(#b14)"/>
<rect x="461.10" y="622.40" width="21.00" height="6.00" rx="1.5" fill="#a2a2a2" filter="url(#b14)"/>
<rect x="484.90" y="622.40" width="21.20" height="6.00" rx="1.5" fill="#a8a8a8" filter="url(#b14)"/>
<rect x="458.90" y="613.80" width="49.00" height="18.10" fill="none" stroke="#1e1e1e" stroke-width="1.2" />
<text x="349.80" y="646.40" font-size="7.9" text-anchor="end" font-weight="normal" fill="#222" >&#945;-tubulin</text>
<rect x="352.50" y="634.00" width="50.50" height="19.00" fill="#f6f6f6" stroke="none" stroke-width="1" />
<rect x="355.30" y="638.40" width="21.00" height="11.20" rx="1.5" fill="#707070" filter="url(#b10)"/>
<rect x="379.10" y="638.40" width="21.20" height="11.20" rx="1.5" fill="#747474" filter="url(#b10)"/>
<rect x="353.10" y="634.60" width="49.30" height="17.80" fill="none" stroke="#1e1e1e" stroke-width="1.2" />
<rect x="405.60" y="634.00" width="50.00" height="19.00" fill="#f6f6f6" stroke="none" stroke-width="1" />
<rect x="408.40" y="638.40" width="21.00" height="11.20" rx="1.5" fill="#6a6a6a" filter="url(#b10)"/>
<rect x="432.20" y="638.40" width="21.20" height="11.20" rx="1.5" fill="#707070" filter="url(#b10)"/>
<rect x="406.20" y="634.60" width="48.80" height="17.80" fill="none" stroke="#1e1e1e" stroke-width="1.2" />
<rect x="458.30" y="634.00" width="50.20" height="19.00" fill="#f6f6f6" stroke="none" stroke-width="1" />
<rect x="461.10" y="638.60" width="21.00" height="10.60" rx="1.5" fill="#6e6e6e" filter="url(#b10)"/>
<rect x="484.90" y="638.60" width="21.20" height="10.60" rx="1.5" fill="#767676" filter="url(#b10)"/>
<rect x="458.90" y="634.60" width="49.00" height="17.80" fill="none" stroke="#1e1e1e" stroke-width="1.2" />
<rect x="0.60" y="0.60" width="518.80" height="678.80" fill="none" stroke="#000" stroke-width="1.3" />
</svg></body></html>
